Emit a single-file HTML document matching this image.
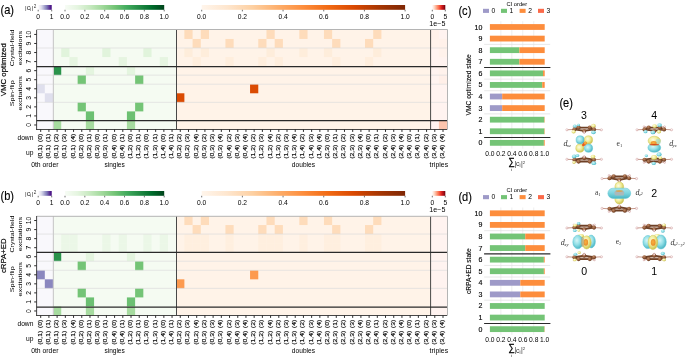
<!DOCTYPE html>
<html><head><meta charset="utf-8"><style>
html,body{margin:0;padding:0;background:#fff;}
body{width:685px;height:362px;overflow:hidden;}
svg{display:block;will-change:transform;}
</style></head><body>
<svg width="685" height="362" viewBox="0 0 685 362" font-family="'Liberation Sans', sans-serif" fill="#000">
<rect x="36.60" y="29.90" width="16.42" height="99.60" fill="#f9f8fc"/>
<rect x="53.02" y="29.90" width="123.15" height="99.60" fill="#f5fbf2"/>
<rect x="176.17" y="29.90" width="254.51" height="99.60" fill="#fff3e8"/>
<rect x="430.68" y="29.90" width="16.42" height="99.60" fill="#fff3f0"/>
<rect x="36.60" y="84.23" width="8.21" height="9.05" fill="#dfdfed"/>
<rect x="44.81" y="93.28" width="8.21" height="9.05" fill="#dfdfed"/>
<rect x="61.23" y="48.01" width="8.21" height="9.05" fill="#e1f4dc"/>
<rect x="102.28" y="48.01" width="8.21" height="9.05" fill="#e1f4dc"/>
<rect x="143.33" y="48.01" width="8.21" height="9.05" fill="#e1f4dc"/>
<rect x="69.44" y="57.06" width="8.21" height="9.05" fill="#e6f5e1"/>
<rect x="118.70" y="57.06" width="8.21" height="9.05" fill="#e6f5e1"/>
<rect x="159.75" y="57.06" width="8.21" height="9.05" fill="#e6f5e1"/>
<rect x="53.02" y="66.12" width="8.21" height="9.05" fill="#2a934b"/>
<rect x="85.86" y="66.12" width="8.21" height="9.05" fill="#e4f5df"/>
<rect x="126.91" y="66.12" width="8.21" height="9.05" fill="#e4f5df"/>
<rect x="77.65" y="75.17" width="8.21" height="9.05" fill="#74c476"/>
<rect x="77.65" y="102.34" width="8.21" height="9.05" fill="#74c476"/>
<rect x="135.12" y="75.17" width="8.21" height="9.05" fill="#74c476"/>
<rect x="135.12" y="102.34" width="8.21" height="9.05" fill="#74c476"/>
<rect x="85.86" y="111.39" width="8.21" height="9.05" fill="#6cc072"/>
<rect x="126.91" y="111.39" width="8.21" height="9.05" fill="#6cc072"/>
<rect x="53.02" y="120.45" width="8.21" height="9.05" fill="#a6db9f"/>
<rect x="85.86" y="120.45" width="8.21" height="9.05" fill="#a6db9f"/>
<rect x="126.91" y="120.45" width="8.21" height="9.05" fill="#a6db9f"/>
<rect x="184.38" y="29.90" width="8.21" height="9.05" fill="#fedcbb"/>
<rect x="184.38" y="48.01" width="8.21" height="9.05" fill="#feeddb"/>
<rect x="200.80" y="29.90" width="8.21" height="9.05" fill="#fedcbb"/>
<rect x="200.80" y="48.01" width="8.21" height="9.05" fill="#feeddb"/>
<rect x="266.48" y="29.90" width="8.21" height="9.05" fill="#fedcbb"/>
<rect x="266.48" y="48.01" width="8.21" height="9.05" fill="#feeddb"/>
<rect x="299.32" y="29.90" width="8.21" height="9.05" fill="#fedcbb"/>
<rect x="299.32" y="48.01" width="8.21" height="9.05" fill="#feeddb"/>
<rect x="323.95" y="29.90" width="8.21" height="9.05" fill="#fedcbb"/>
<rect x="323.95" y="48.01" width="8.21" height="9.05" fill="#feeddb"/>
<rect x="373.21" y="29.90" width="8.21" height="9.05" fill="#fedcbb"/>
<rect x="373.21" y="48.01" width="8.21" height="9.05" fill="#feeddb"/>
<rect x="192.59" y="38.95" width="8.21" height="9.05" fill="#fedcbb"/>
<rect x="192.59" y="57.06" width="8.21" height="9.05" fill="#ffeedd"/>
<rect x="225.43" y="38.95" width="8.21" height="9.05" fill="#fedcbb"/>
<rect x="225.43" y="57.06" width="8.21" height="9.05" fill="#ffeedd"/>
<rect x="258.27" y="38.95" width="8.21" height="9.05" fill="#fedcbb"/>
<rect x="258.27" y="57.06" width="8.21" height="9.05" fill="#ffeedd"/>
<rect x="274.69" y="38.95" width="8.21" height="9.05" fill="#fedcbb"/>
<rect x="274.69" y="57.06" width="8.21" height="9.05" fill="#ffeedd"/>
<rect x="332.16" y="38.95" width="8.21" height="9.05" fill="#fedcbb"/>
<rect x="332.16" y="57.06" width="8.21" height="9.05" fill="#ffeedd"/>
<rect x="365.00" y="38.95" width="8.21" height="9.05" fill="#fedcbb"/>
<rect x="365.00" y="57.06" width="8.21" height="9.05" fill="#ffeedd"/>
<rect x="250.06" y="84.23" width="8.21" height="9.05" fill="#db4b02"/>
<rect x="176.17" y="93.28" width="8.21" height="9.05" fill="#db4b02"/>
<rect x="438.89" y="120.45" width="8.21" height="9.05" fill="#fcc4ad"/>
<rect x="430.68" y="29.90" width="8.21" height="9.05" fill="#fff1ea"/>
<rect x="430.68" y="38.95" width="8.21" height="9.05" fill="#fff2eb"/>
<rect x="438.89" y="38.95" width="8.21" height="9.05" fill="#fff1ea"/>
<rect x="438.89" y="48.01" width="8.21" height="9.05" fill="#fff2eb"/>
<rect x="438.89" y="75.17" width="8.21" height="9.05" fill="#ffefe8"/>
<rect x="438.89" y="66.12" width="8.21" height="9.05" fill="#fff2ec"/>
<line x1="36.60" y1="48.01" x2="447.10" y2="48.01" stroke="#dcdcdc" stroke-width="0.7"/>
<line x1="36.60" y1="75.17" x2="447.10" y2="75.17" stroke="#dcdcdc" stroke-width="0.7"/>
<line x1="36.60" y1="84.23" x2="447.10" y2="84.23" stroke="#dcdcdc" stroke-width="0.7"/>
<line x1="36.60" y1="102.34" x2="447.10" y2="102.34" stroke="#dcdcdc" stroke-width="0.7"/>
<line x1="53.4" y1="29.90" x2="53.4" y2="129.50" stroke="#cdcdcd" stroke-width="1.2"/>
<line x1="176.50" y1="29.90" x2="176.50" y2="129.50" stroke="#484848" stroke-width="1"/>
<line x1="430.60" y1="29.90" x2="430.60" y2="129.50" stroke="#484848" stroke-width="1"/>
<line x1="36.60" y1="66.50" x2="447.10" y2="66.50" stroke="#2a2a2a" stroke-width="1.25"/>
<line x1="36.60" y1="120.70" x2="447.10" y2="120.70" stroke="#2a2a2a" stroke-width="1.25"/>
<path d="M36.60 29.50H447.5V129.50" fill="none" stroke="#b4b4b4" stroke-width="1"/>
<line x1="36.60" y1="29.90" x2="36.60" y2="129.95" stroke="#333" stroke-width="0.9"/>
<line x1="36.15" y1="129.50" x2="447.10" y2="129.50" stroke="#333" stroke-width="0.9"/>
<path d="M40.70 129.50v2.4 M48.92 129.50v2.4 M57.12 129.50v2.4 M65.34 129.50v2.4 M73.55 129.50v2.4 M81.75 129.50v2.4 M89.97 129.50v2.4 M98.18 129.50v2.4 M106.39 129.50v2.4 M114.59 129.50v2.4 M122.81 129.50v2.4 M131.02 129.50v2.4 M139.23 129.50v2.4 M147.44 129.50v2.4 M155.65 129.50v2.4 M163.86 129.50v2.4 M172.06 129.50v2.4 M180.28 129.50v2.4 M188.49 129.50v2.4 M196.70 129.50v2.4 M204.91 129.50v2.4 M213.12 129.50v2.4 M221.33 129.50v2.4 M229.54 129.50v2.4 M237.75 129.50v2.4 M245.96 129.50v2.4 M254.17 129.50v2.4 M262.38 129.50v2.4 M270.59 129.50v2.4 M278.80 129.50v2.4 M287.01 129.50v2.4 M295.22 129.50v2.4 M303.43 129.50v2.4 M311.64 129.50v2.4 M319.85 129.50v2.4 M328.06 129.50v2.4 M336.27 129.50v2.4 M344.48 129.50v2.4 M352.69 129.50v2.4 M360.90 129.50v2.4 M369.11 129.50v2.4 M377.32 129.50v2.4 M385.53 129.50v2.4 M393.74 129.50v2.4 M401.95 129.50v2.4 M410.16 129.50v2.4 M418.37 129.50v2.4 M426.58 129.50v2.4 M434.79 129.50v2.4 M443.00 129.50v2.4 M36.60 124.97h-2.4 M36.60 115.92h-2.4 M36.60 106.86h-2.4 M36.60 97.81h-2.4 M36.60 88.75h-2.4 M36.60 79.70h-2.4 M36.60 70.65h-2.4 M36.60 61.59h-2.4 M36.60 52.54h-2.4 M36.60 43.48h-2.4 M36.60 34.43h-2.4" stroke="#222" stroke-width="0.95" fill="none"/>
<text transform="translate(41.70 133.80) rotate(-90) scale(1.22 1)" font-size="5.6" text-anchor="end" stroke="#000" stroke-width="0.16">(0)</text>
<text transform="translate(41.70 144.70) rotate(-90) scale(1.22 1)" font-size="5.6" text-anchor="end" stroke="#000" stroke-width="0.16">(0,1)</text>
<text transform="translate(49.92 133.80) rotate(-90) scale(1.22 1)" font-size="5.6" text-anchor="end" stroke="#000" stroke-width="0.16">(1)</text>
<text transform="translate(49.92 144.70) rotate(-90) scale(1.22 1)" font-size="5.6" text-anchor="end" stroke="#000" stroke-width="0.16">(0,1)</text>
<text transform="translate(58.12 133.80) rotate(-90) scale(1.22 1)" font-size="5.6" text-anchor="end" stroke="#000" stroke-width="0.16">(2)</text>
<text transform="translate(58.12 144.70) rotate(-90) scale(1.22 1)" font-size="5.6" text-anchor="end" stroke="#000" stroke-width="0.16">(0,1)</text>
<text transform="translate(66.34 133.80) rotate(-90) scale(1.22 1)" font-size="5.6" text-anchor="end" stroke="#000" stroke-width="0.16">(3)</text>
<text transform="translate(66.34 144.70) rotate(-90) scale(1.22 1)" font-size="5.6" text-anchor="end" stroke="#000" stroke-width="0.16">(0,1)</text>
<text transform="translate(74.55 133.80) rotate(-90) scale(1.22 1)" font-size="5.6" text-anchor="end" stroke="#000" stroke-width="0.16">(4)</text>
<text transform="translate(74.55 144.70) rotate(-90) scale(1.22 1)" font-size="5.6" text-anchor="end" stroke="#000" stroke-width="0.16">(0,1)</text>
<text transform="translate(82.75 133.80) rotate(-90) scale(1.22 1)" font-size="5.6" text-anchor="end" stroke="#000" stroke-width="0.16">(0)</text>
<text transform="translate(82.75 144.70) rotate(-90) scale(1.22 1)" font-size="5.6" text-anchor="end" stroke="#000" stroke-width="0.16">(0,2)</text>
<text transform="translate(90.97 133.80) rotate(-90) scale(1.22 1)" font-size="5.6" text-anchor="end" stroke="#000" stroke-width="0.16">(1)</text>
<text transform="translate(90.97 144.70) rotate(-90) scale(1.22 1)" font-size="5.6" text-anchor="end" stroke="#000" stroke-width="0.16">(0,2)</text>
<text transform="translate(99.18 133.80) rotate(-90) scale(1.22 1)" font-size="5.6" text-anchor="end" stroke="#000" stroke-width="0.16">(0)</text>
<text transform="translate(99.18 144.70) rotate(-90) scale(1.22 1)" font-size="5.6" text-anchor="end" stroke="#000" stroke-width="0.16">(0,3)</text>
<text transform="translate(107.39 133.80) rotate(-90) scale(1.22 1)" font-size="5.6" text-anchor="end" stroke="#000" stroke-width="0.16">(1)</text>
<text transform="translate(107.39 144.70) rotate(-90) scale(1.22 1)" font-size="5.6" text-anchor="end" stroke="#000" stroke-width="0.16">(0,3)</text>
<text transform="translate(115.59 133.80) rotate(-90) scale(1.22 1)" font-size="5.6" text-anchor="end" stroke="#000" stroke-width="0.16">(0)</text>
<text transform="translate(115.59 144.70) rotate(-90) scale(1.22 1)" font-size="5.6" text-anchor="end" stroke="#000" stroke-width="0.16">(0,4)</text>
<text transform="translate(123.81 133.80) rotate(-90) scale(1.22 1)" font-size="5.6" text-anchor="end" stroke="#000" stroke-width="0.16">(1)</text>
<text transform="translate(123.81 144.70) rotate(-90) scale(1.22 1)" font-size="5.6" text-anchor="end" stroke="#000" stroke-width="0.16">(0,4)</text>
<text transform="translate(132.02 133.80) rotate(-90) scale(1.22 1)" font-size="5.6" text-anchor="end" stroke="#000" stroke-width="0.16">(0)</text>
<text transform="translate(132.02 144.70) rotate(-90) scale(1.22 1)" font-size="5.6" text-anchor="end" stroke="#000" stroke-width="0.16">(1,2)</text>
<text transform="translate(140.23 133.80) rotate(-90) scale(1.22 1)" font-size="5.6" text-anchor="end" stroke="#000" stroke-width="0.16">(1)</text>
<text transform="translate(140.23 144.70) rotate(-90) scale(1.22 1)" font-size="5.6" text-anchor="end" stroke="#000" stroke-width="0.16">(1,2)</text>
<text transform="translate(148.44 133.80) rotate(-90) scale(1.22 1)" font-size="5.6" text-anchor="end" stroke="#000" stroke-width="0.16">(0)</text>
<text transform="translate(148.44 144.70) rotate(-90) scale(1.22 1)" font-size="5.6" text-anchor="end" stroke="#000" stroke-width="0.16">(1,3)</text>
<text transform="translate(156.65 133.80) rotate(-90) scale(1.22 1)" font-size="5.6" text-anchor="end" stroke="#000" stroke-width="0.16">(1)</text>
<text transform="translate(156.65 144.70) rotate(-90) scale(1.22 1)" font-size="5.6" text-anchor="end" stroke="#000" stroke-width="0.16">(1,3)</text>
<text transform="translate(164.86 133.80) rotate(-90) scale(1.22 1)" font-size="5.6" text-anchor="end" stroke="#000" stroke-width="0.16">(0)</text>
<text transform="translate(164.86 144.70) rotate(-90) scale(1.22 1)" font-size="5.6" text-anchor="end" stroke="#000" stroke-width="0.16">(1,4)</text>
<text transform="translate(173.06 133.80) rotate(-90) scale(1.22 1)" font-size="5.6" text-anchor="end" stroke="#000" stroke-width="0.16">(1)</text>
<text transform="translate(173.06 144.70) rotate(-90) scale(1.22 1)" font-size="5.6" text-anchor="end" stroke="#000" stroke-width="0.16">(1,4)</text>
<text transform="translate(181.28 133.80) rotate(-90) scale(1.22 1)" font-size="5.6" text-anchor="end" stroke="#000" stroke-width="0.16">(2)</text>
<text transform="translate(181.28 144.70) rotate(-90) scale(1.22 1)" font-size="5.6" text-anchor="end" stroke="#000" stroke-width="0.16">(0,2)</text>
<text transform="translate(189.49 133.80) rotate(-90) scale(1.22 1)" font-size="5.6" text-anchor="end" stroke="#000" stroke-width="0.16">(3)</text>
<text transform="translate(189.49 144.70) rotate(-90) scale(1.22 1)" font-size="5.6" text-anchor="end" stroke="#000" stroke-width="0.16">(0,2)</text>
<text transform="translate(197.70 133.80) rotate(-90) scale(1.22 1)" font-size="5.6" text-anchor="end" stroke="#000" stroke-width="0.16">(4)</text>
<text transform="translate(197.70 144.70) rotate(-90) scale(1.22 1)" font-size="5.6" text-anchor="end" stroke="#000" stroke-width="0.16">(0,2)</text>
<text transform="translate(205.91 133.80) rotate(-90) scale(1.22 1)" font-size="5.6" text-anchor="end" stroke="#000" stroke-width="0.16">(2)</text>
<text transform="translate(205.91 144.70) rotate(-90) scale(1.22 1)" font-size="5.6" text-anchor="end" stroke="#000" stroke-width="0.16">(0,3)</text>
<text transform="translate(214.12 133.80) rotate(-90) scale(1.22 1)" font-size="5.6" text-anchor="end" stroke="#000" stroke-width="0.16">(3)</text>
<text transform="translate(214.12 144.70) rotate(-90) scale(1.22 1)" font-size="5.6" text-anchor="end" stroke="#000" stroke-width="0.16">(0,3)</text>
<text transform="translate(222.33 133.80) rotate(-90) scale(1.22 1)" font-size="5.6" text-anchor="end" stroke="#000" stroke-width="0.16">(4)</text>
<text transform="translate(222.33 144.70) rotate(-90) scale(1.22 1)" font-size="5.6" text-anchor="end" stroke="#000" stroke-width="0.16">(0,3)</text>
<text transform="translate(230.54 133.80) rotate(-90) scale(1.22 1)" font-size="5.6" text-anchor="end" stroke="#000" stroke-width="0.16">(2)</text>
<text transform="translate(230.54 144.70) rotate(-90) scale(1.22 1)" font-size="5.6" text-anchor="end" stroke="#000" stroke-width="0.16">(0,4)</text>
<text transform="translate(238.75 133.80) rotate(-90) scale(1.22 1)" font-size="5.6" text-anchor="end" stroke="#000" stroke-width="0.16">(3)</text>
<text transform="translate(238.75 144.70) rotate(-90) scale(1.22 1)" font-size="5.6" text-anchor="end" stroke="#000" stroke-width="0.16">(0,4)</text>
<text transform="translate(246.96 133.80) rotate(-90) scale(1.22 1)" font-size="5.6" text-anchor="end" stroke="#000" stroke-width="0.16">(4)</text>
<text transform="translate(246.96 144.70) rotate(-90) scale(1.22 1)" font-size="5.6" text-anchor="end" stroke="#000" stroke-width="0.16">(0,4)</text>
<text transform="translate(255.17 133.80) rotate(-90) scale(1.22 1)" font-size="5.6" text-anchor="end" stroke="#000" stroke-width="0.16">(2)</text>
<text transform="translate(255.17 144.70) rotate(-90) scale(1.22 1)" font-size="5.6" text-anchor="end" stroke="#000" stroke-width="0.16">(1,2)</text>
<text transform="translate(263.38 133.80) rotate(-90) scale(1.22 1)" font-size="5.6" text-anchor="end" stroke="#000" stroke-width="0.16">(3)</text>
<text transform="translate(263.38 144.70) rotate(-90) scale(1.22 1)" font-size="5.6" text-anchor="end" stroke="#000" stroke-width="0.16">(1,2)</text>
<text transform="translate(271.59 133.80) rotate(-90) scale(1.22 1)" font-size="5.6" text-anchor="end" stroke="#000" stroke-width="0.16">(4)</text>
<text transform="translate(271.59 144.70) rotate(-90) scale(1.22 1)" font-size="5.6" text-anchor="end" stroke="#000" stroke-width="0.16">(1,2)</text>
<text transform="translate(279.80 133.80) rotate(-90) scale(1.22 1)" font-size="5.6" text-anchor="end" stroke="#000" stroke-width="0.16">(2)</text>
<text transform="translate(279.80 144.70) rotate(-90) scale(1.22 1)" font-size="5.6" text-anchor="end" stroke="#000" stroke-width="0.16">(1,3)</text>
<text transform="translate(288.01 133.80) rotate(-90) scale(1.22 1)" font-size="5.6" text-anchor="end" stroke="#000" stroke-width="0.16">(3)</text>
<text transform="translate(288.01 144.70) rotate(-90) scale(1.22 1)" font-size="5.6" text-anchor="end" stroke="#000" stroke-width="0.16">(1,3)</text>
<text transform="translate(296.22 133.80) rotate(-90) scale(1.22 1)" font-size="5.6" text-anchor="end" stroke="#000" stroke-width="0.16">(4)</text>
<text transform="translate(296.22 144.70) rotate(-90) scale(1.22 1)" font-size="5.6" text-anchor="end" stroke="#000" stroke-width="0.16">(1,3)</text>
<text transform="translate(304.43 133.80) rotate(-90) scale(1.22 1)" font-size="5.6" text-anchor="end" stroke="#000" stroke-width="0.16">(2)</text>
<text transform="translate(304.43 144.70) rotate(-90) scale(1.22 1)" font-size="5.6" text-anchor="end" stroke="#000" stroke-width="0.16">(1,4)</text>
<text transform="translate(312.64 133.80) rotate(-90) scale(1.22 1)" font-size="5.6" text-anchor="end" stroke="#000" stroke-width="0.16">(3)</text>
<text transform="translate(312.64 144.70) rotate(-90) scale(1.22 1)" font-size="5.6" text-anchor="end" stroke="#000" stroke-width="0.16">(1,4)</text>
<text transform="translate(320.85 133.80) rotate(-90) scale(1.22 1)" font-size="5.6" text-anchor="end" stroke="#000" stroke-width="0.16">(4)</text>
<text transform="translate(320.85 144.70) rotate(-90) scale(1.22 1)" font-size="5.6" text-anchor="end" stroke="#000" stroke-width="0.16">(1,4)</text>
<text transform="translate(329.06 133.80) rotate(-90) scale(1.22 1)" font-size="5.6" text-anchor="end" stroke="#000" stroke-width="0.16">(0)</text>
<text transform="translate(329.06 144.70) rotate(-90) scale(1.22 1)" font-size="5.6" text-anchor="end" stroke="#000" stroke-width="0.16">(2,3)</text>
<text transform="translate(337.27 133.80) rotate(-90) scale(1.22 1)" font-size="5.6" text-anchor="end" stroke="#000" stroke-width="0.16">(1)</text>
<text transform="translate(337.27 144.70) rotate(-90) scale(1.22 1)" font-size="5.6" text-anchor="end" stroke="#000" stroke-width="0.16">(2,3)</text>
<text transform="translate(345.48 133.80) rotate(-90) scale(1.22 1)" font-size="5.6" text-anchor="end" stroke="#000" stroke-width="0.16">(2)</text>
<text transform="translate(345.48 144.70) rotate(-90) scale(1.22 1)" font-size="5.6" text-anchor="end" stroke="#000" stroke-width="0.16">(2,3)</text>
<text transform="translate(353.69 133.80) rotate(-90) scale(1.22 1)" font-size="5.6" text-anchor="end" stroke="#000" stroke-width="0.16">(3)</text>
<text transform="translate(353.69 144.70) rotate(-90) scale(1.22 1)" font-size="5.6" text-anchor="end" stroke="#000" stroke-width="0.16">(2,3)</text>
<text transform="translate(361.90 133.80) rotate(-90) scale(1.22 1)" font-size="5.6" text-anchor="end" stroke="#000" stroke-width="0.16">(4)</text>
<text transform="translate(361.90 144.70) rotate(-90) scale(1.22 1)" font-size="5.6" text-anchor="end" stroke="#000" stroke-width="0.16">(2,3)</text>
<text transform="translate(370.11 133.80) rotate(-90) scale(1.22 1)" font-size="5.6" text-anchor="end" stroke="#000" stroke-width="0.16">(0)</text>
<text transform="translate(370.11 144.70) rotate(-90) scale(1.22 1)" font-size="5.6" text-anchor="end" stroke="#000" stroke-width="0.16">(2,4)</text>
<text transform="translate(378.32 133.80) rotate(-90) scale(1.22 1)" font-size="5.6" text-anchor="end" stroke="#000" stroke-width="0.16">(1)</text>
<text transform="translate(378.32 144.70) rotate(-90) scale(1.22 1)" font-size="5.6" text-anchor="end" stroke="#000" stroke-width="0.16">(2,4)</text>
<text transform="translate(386.53 133.80) rotate(-90) scale(1.22 1)" font-size="5.6" text-anchor="end" stroke="#000" stroke-width="0.16">(2)</text>
<text transform="translate(386.53 144.70) rotate(-90) scale(1.22 1)" font-size="5.6" text-anchor="end" stroke="#000" stroke-width="0.16">(2,4)</text>
<text transform="translate(394.74 133.80) rotate(-90) scale(1.22 1)" font-size="5.6" text-anchor="end" stroke="#000" stroke-width="0.16">(3)</text>
<text transform="translate(394.74 144.70) rotate(-90) scale(1.22 1)" font-size="5.6" text-anchor="end" stroke="#000" stroke-width="0.16">(2,4)</text>
<text transform="translate(402.95 133.80) rotate(-90) scale(1.22 1)" font-size="5.6" text-anchor="end" stroke="#000" stroke-width="0.16">(4)</text>
<text transform="translate(402.95 144.70) rotate(-90) scale(1.22 1)" font-size="5.6" text-anchor="end" stroke="#000" stroke-width="0.16">(2,4)</text>
<text transform="translate(411.16 133.80) rotate(-90) scale(1.22 1)" font-size="5.6" text-anchor="end" stroke="#000" stroke-width="0.16">(0)</text>
<text transform="translate(411.16 144.70) rotate(-90) scale(1.22 1)" font-size="5.6" text-anchor="end" stroke="#000" stroke-width="0.16">(3,4)</text>
<text transform="translate(419.37 133.80) rotate(-90) scale(1.22 1)" font-size="5.6" text-anchor="end" stroke="#000" stroke-width="0.16">(1)</text>
<text transform="translate(419.37 144.70) rotate(-90) scale(1.22 1)" font-size="5.6" text-anchor="end" stroke="#000" stroke-width="0.16">(3,4)</text>
<text transform="translate(427.58 133.80) rotate(-90) scale(1.22 1)" font-size="5.6" text-anchor="end" stroke="#000" stroke-width="0.16">(2)</text>
<text transform="translate(427.58 144.70) rotate(-90) scale(1.22 1)" font-size="5.6" text-anchor="end" stroke="#000" stroke-width="0.16">(3,4)</text>
<text transform="translate(435.79 133.80) rotate(-90) scale(1.22 1)" font-size="5.6" text-anchor="end" stroke="#000" stroke-width="0.16">(3)</text>
<text transform="translate(435.79 144.70) rotate(-90) scale(1.22 1)" font-size="5.6" text-anchor="end" stroke="#000" stroke-width="0.16">(3,4)</text>
<text transform="translate(444.00 133.80) rotate(-90) scale(1.22 1)" font-size="5.6" text-anchor="end" stroke="#000" stroke-width="0.16">(4)</text>
<text transform="translate(444.00 144.70) rotate(-90) scale(1.22 1)" font-size="5.6" text-anchor="end" stroke="#000" stroke-width="0.16">(3,4)</text>
<text transform="translate(33.40 139.90) scale(1.03 1)" font-size="6.5" text-anchor="end">down</text>
<text transform="translate(33.40 154.90) scale(1.03 1)" font-size="6.5" text-anchor="end">up</text>
<text transform="translate(44.81 166.70) scale(1.05 1)" font-size="6.5" text-anchor="middle">0th order</text>
<text transform="translate(114.59 166.70) scale(1.01 1)" font-size="6.5" text-anchor="middle">singles</text>
<text transform="translate(303.43 166.70) scale(1.02 1)" font-size="6.5" text-anchor="middle">doubles</text>
<text transform="translate(438.89 166.70) scale(1.07 1)" font-size="6.5" text-anchor="middle">triples</text>
<text transform="translate(31.30 124.97) rotate(-90) scale(1.08 1)" font-size="6.3" text-anchor="middle">0</text>
<text transform="translate(31.30 115.92) rotate(-90) scale(1.08 1)" font-size="6.3" text-anchor="middle">1</text>
<text transform="translate(31.30 106.86) rotate(-90) scale(1.08 1)" font-size="6.3" text-anchor="middle">2</text>
<text transform="translate(31.30 97.81) rotate(-90) scale(1.08 1)" font-size="6.3" text-anchor="middle">3</text>
<text transform="translate(31.30 88.75) rotate(-90) scale(1.08 1)" font-size="6.3" text-anchor="middle">4</text>
<text transform="translate(31.30 79.70) rotate(-90) scale(1.08 1)" font-size="6.3" text-anchor="middle">5</text>
<text transform="translate(31.30 70.65) rotate(-90) scale(1.08 1)" font-size="6.3" text-anchor="middle">6</text>
<text transform="translate(31.30 61.59) rotate(-90) scale(1.08 1)" font-size="6.3" text-anchor="middle">7</text>
<text transform="translate(31.30 52.54) rotate(-90) scale(1.08 1)" font-size="6.3" text-anchor="middle">8</text>
<text transform="translate(31.30 43.48) rotate(-90) scale(1.08 1)" font-size="6.3" text-anchor="middle">9</text>
<text transform="translate(31.30 34.43) rotate(-90) scale(1.08 1)" font-size="6.3" text-anchor="middle">10</text>
<text transform="translate(13.70 48.01) rotate(-90) scale(1.14 1)" font-size="6.1" text-anchor="middle">Crystal-field</text>
<text transform="translate(21.60 48.01) rotate(-90) scale(1.2 1)" font-size="6.1" text-anchor="middle">excitations</text>
<text transform="translate(13.70 93.28) rotate(-90) scale(1.18 1)" font-size="6.1" text-anchor="middle">Spin-flip</text>
<text transform="translate(21.60 93.28) rotate(-90) scale(1.2 1)" font-size="6.1" text-anchor="middle">excitations</text>
<text transform="translate(5.50 69.70) rotate(-90)" font-size="7.8" text-anchor="middle" stroke="#000" stroke-width="0.2">VMC optimized</text>
<text transform="translate(0.50 13.80) scale(0.9 1)" font-size="12.3" text-anchor="start" stroke="#000" stroke-width="0.15">(a)</text>
<defs><linearGradient id="gPurples0"><stop offset="0" stop-color="#fcfbfd"/><stop offset="0.125" stop-color="#efedf5"/><stop offset="0.25" stop-color="#dadaeb"/><stop offset="0.375" stop-color="#bcbddc"/><stop offset="0.5" stop-color="#9e9ac8"/><stop offset="0.625" stop-color="#807dba"/><stop offset="0.75" stop-color="#6a51a3"/><stop offset="0.875" stop-color="#54278f"/><stop offset="1" stop-color="#3f007d"/></linearGradient></defs>
<rect x="38.20" y="5.00" width="13.50" height="4.80" fill="url(#gPurples0)"/>
<text transform="translate(38.20 18.70) scale(1.03 1)" font-size="6.5" text-anchor="middle">0</text>
<text transform="translate(51.70 18.70) scale(1.03 1)" font-size="6.5" text-anchor="middle">1</text>
<path d="M38.20 9.80v1.6 M51.70 9.80v1.6" stroke="#333" stroke-width="0.7" fill="none"/>
<defs><linearGradient id="gGreens0"><stop offset="0" stop-color="#f7fcf5"/><stop offset="0.125" stop-color="#e5f5e0"/><stop offset="0.25" stop-color="#c7e9c0"/><stop offset="0.375" stop-color="#a1d99b"/><stop offset="0.5" stop-color="#74c476"/><stop offset="0.625" stop-color="#41ab5d"/><stop offset="0.75" stop-color="#238b45"/><stop offset="0.875" stop-color="#006d2c"/><stop offset="1" stop-color="#00441b"/></linearGradient></defs>
<rect x="65.00" y="5.00" width="99.20" height="4.80" fill="url(#gGreens0)"/>
<text transform="translate(65.00 18.70) scale(1.03 1)" font-size="6.5" text-anchor="middle">0.0</text>
<text transform="translate(84.84 18.70) scale(1.03 1)" font-size="6.5" text-anchor="middle">0.2</text>
<text transform="translate(104.68 18.70) scale(1.03 1)" font-size="6.5" text-anchor="middle">0.4</text>
<text transform="translate(124.52 18.70) scale(1.03 1)" font-size="6.5" text-anchor="middle">0.6</text>
<text transform="translate(144.36 18.70) scale(1.03 1)" font-size="6.5" text-anchor="middle">0.8</text>
<text transform="translate(164.20 18.70) scale(1.03 1)" font-size="6.5" text-anchor="middle">1.0</text>
<path d="M65.00 9.80v1.6 M84.84 9.80v1.6 M104.68 9.80v1.6 M124.52 9.80v1.6 M144.36 9.80v1.6 M164.20 9.80v1.6" stroke="#333" stroke-width="0.7" fill="none"/>
<defs><linearGradient id="gOranges0"><stop offset="0" stop-color="#fff5eb"/><stop offset="0.125" stop-color="#fee6ce"/><stop offset="0.25" stop-color="#fdd0a2"/><stop offset="0.375" stop-color="#fdae6b"/><stop offset="0.5" stop-color="#fd8d3c"/><stop offset="0.625" stop-color="#f16913"/><stop offset="0.75" stop-color="#d94801"/><stop offset="0.875" stop-color="#a63603"/><stop offset="1" stop-color="#7f2704"/></linearGradient></defs>
<rect x="201.70" y="5.00" width="203.40" height="4.80" fill="url(#gOranges0)"/>
<text transform="translate(201.70 18.70) scale(1.03 1)" font-size="6.5" text-anchor="middle">0.0</text>
<text transform="translate(242.38 18.70) scale(1.03 1)" font-size="6.5" text-anchor="middle">0.2</text>
<text transform="translate(283.06 18.70) scale(1.03 1)" font-size="6.5" text-anchor="middle">0.4</text>
<text transform="translate(323.74 18.70) scale(1.03 1)" font-size="6.5" text-anchor="middle">0.6</text>
<text transform="translate(364.42 18.70) scale(1.03 1)" font-size="6.5" text-anchor="middle">0.8</text>
<text transform="translate(405.10 18.70) scale(1.03 1)" font-size="6.5" text-anchor="middle">1.0</text>
<path d="M201.70 9.80v1.6 M242.38 9.80v1.6 M283.06 9.80v1.6 M323.74 9.80v1.6 M364.42 9.80v1.6 M405.10 9.80v1.6" stroke="#333" stroke-width="0.7" fill="none"/>
<defs><linearGradient id="gReds0"><stop offset="0" stop-color="#fff5f0"/><stop offset="0.125" stop-color="#fee0d2"/><stop offset="0.25" stop-color="#fcbba1"/><stop offset="0.375" stop-color="#fc9272"/><stop offset="0.5" stop-color="#fb6a4a"/><stop offset="0.625" stop-color="#ef3b2c"/><stop offset="0.75" stop-color="#cb181d"/><stop offset="0.875" stop-color="#a50f15"/><stop offset="1" stop-color="#67000d"/></linearGradient></defs>
<rect x="432.30" y="5.00" width="13.00" height="4.80" fill="url(#gReds0)"/>
<text transform="translate(432.30 18.70) scale(1.03 1)" font-size="6.5" text-anchor="middle">0</text>
<text transform="translate(445.30 18.70) scale(1.03 1)" font-size="6.5" text-anchor="middle">5</text>
<path d="M432.30 9.80v1.6 M445.30 9.80v1.6" stroke="#333" stroke-width="0.7" fill="none"/>
<text transform="translate(437.30 26.40) scale(1.1 1)" font-size="6.5" text-anchor="middle">1e−5</text>
<text x="24.90" y="9.80" font-size="6.20" fill="#333">|</text><text x="26.65" y="10.40" font-size="7.40" fill="#333">c</text><text x="30.30" y="11.30" font-size="4.90" fill="#333">i</text><text x="31.80" y="9.80" font-size="6.20" fill="#333">|</text><text x="33.80" y="7.80" font-size="4.60" fill="#333">2</text>
<rect x="36.60" y="216.00" width="16.42" height="99.50" fill="#f9f8fc"/>
<rect x="53.02" y="216.00" width="123.15" height="99.50" fill="#f5fbf2"/>
<rect x="176.17" y="216.00" width="254.51" height="99.50" fill="#fff3e8"/>
<rect x="430.68" y="216.00" width="16.42" height="99.50" fill="#fff3f0"/>
<rect x="36.60" y="270.27" width="8.21" height="9.05" fill="#8b87bf"/>
<rect x="44.81" y="279.32" width="8.21" height="9.05" fill="#8b87bf"/>
<rect x="61.23" y="234.09" width="8.21" height="9.05" fill="#ebf7e7"/>
<rect x="61.23" y="243.14" width="8.21" height="9.05" fill="#ebf7e7"/>
<rect x="69.44" y="234.09" width="8.21" height="9.05" fill="#ebf7e7"/>
<rect x="69.44" y="243.14" width="8.21" height="9.05" fill="#ebf7e7"/>
<rect x="102.28" y="234.09" width="8.21" height="9.05" fill="#ebf7e7"/>
<rect x="102.28" y="243.14" width="8.21" height="9.05" fill="#ebf7e7"/>
<rect x="118.70" y="234.09" width="8.21" height="9.05" fill="#ebf7e7"/>
<rect x="118.70" y="243.14" width="8.21" height="9.05" fill="#ebf7e7"/>
<rect x="143.33" y="234.09" width="8.21" height="9.05" fill="#ebf7e7"/>
<rect x="143.33" y="243.14" width="8.21" height="9.05" fill="#ebf7e7"/>
<rect x="159.75" y="234.09" width="8.21" height="9.05" fill="#ebf7e7"/>
<rect x="159.75" y="243.14" width="8.21" height="9.05" fill="#ebf7e7"/>
<rect x="53.02" y="252.18" width="8.21" height="9.05" fill="#2a934b"/>
<rect x="85.86" y="252.18" width="8.21" height="9.05" fill="#e4f5df"/>
<rect x="126.91" y="252.18" width="8.21" height="9.05" fill="#e4f5df"/>
<rect x="77.65" y="261.23" width="8.21" height="9.05" fill="#74c476"/>
<rect x="77.65" y="288.36" width="8.21" height="9.05" fill="#74c476"/>
<rect x="135.12" y="261.23" width="8.21" height="9.05" fill="#74c476"/>
<rect x="135.12" y="288.36" width="8.21" height="9.05" fill="#74c476"/>
<rect x="85.86" y="297.41" width="8.21" height="9.05" fill="#6cc072"/>
<rect x="126.91" y="297.41" width="8.21" height="9.05" fill="#6cc072"/>
<rect x="53.02" y="306.45" width="8.21" height="9.05" fill="#a6db9f"/>
<rect x="85.86" y="306.45" width="8.21" height="9.05" fill="#a6db9f"/>
<rect x="126.91" y="306.45" width="8.21" height="9.05" fill="#a6db9f"/>
<rect x="184.38" y="216.00" width="8.21" height="9.05" fill="#fedcbb"/>
<rect x="200.80" y="216.00" width="8.21" height="9.05" fill="#fedcbb"/>
<rect x="266.48" y="216.00" width="8.21" height="9.05" fill="#fedcbb"/>
<rect x="299.32" y="216.00" width="8.21" height="9.05" fill="#fedcbb"/>
<rect x="323.95" y="216.00" width="8.21" height="9.05" fill="#fedcbb"/>
<rect x="373.21" y="216.00" width="8.21" height="9.05" fill="#fedcbb"/>
<rect x="192.59" y="225.05" width="8.21" height="9.05" fill="#fedcbb"/>
<rect x="225.43" y="225.05" width="8.21" height="9.05" fill="#fedcbb"/>
<rect x="258.27" y="225.05" width="8.21" height="9.05" fill="#fedcbb"/>
<rect x="274.69" y="225.05" width="8.21" height="9.05" fill="#fedcbb"/>
<rect x="332.16" y="225.05" width="8.21" height="9.05" fill="#fedcbb"/>
<rect x="365.00" y="225.05" width="8.21" height="9.05" fill="#fedcbb"/>
<rect x="184.38" y="234.09" width="8.21" height="9.05" fill="#ffefdf"/>
<rect x="184.38" y="243.14" width="8.21" height="9.05" fill="#ffefdf"/>
<rect x="192.59" y="234.09" width="8.21" height="9.05" fill="#ffefdf"/>
<rect x="192.59" y="243.14" width="8.21" height="9.05" fill="#ffefdf"/>
<rect x="200.80" y="234.09" width="8.21" height="9.05" fill="#ffefdf"/>
<rect x="200.80" y="243.14" width="8.21" height="9.05" fill="#ffefdf"/>
<rect x="225.43" y="234.09" width="8.21" height="9.05" fill="#ffefdf"/>
<rect x="225.43" y="243.14" width="8.21" height="9.05" fill="#ffefdf"/>
<rect x="258.27" y="234.09" width="8.21" height="9.05" fill="#ffefdf"/>
<rect x="258.27" y="243.14" width="8.21" height="9.05" fill="#ffefdf"/>
<rect x="266.48" y="234.09" width="8.21" height="9.05" fill="#ffefdf"/>
<rect x="266.48" y="243.14" width="8.21" height="9.05" fill="#ffefdf"/>
<rect x="274.69" y="234.09" width="8.21" height="9.05" fill="#ffefdf"/>
<rect x="274.69" y="243.14" width="8.21" height="9.05" fill="#ffefdf"/>
<rect x="299.32" y="234.09" width="8.21" height="9.05" fill="#ffefdf"/>
<rect x="299.32" y="243.14" width="8.21" height="9.05" fill="#ffefdf"/>
<rect x="323.95" y="234.09" width="8.21" height="9.05" fill="#ffefdf"/>
<rect x="323.95" y="243.14" width="8.21" height="9.05" fill="#ffefdf"/>
<rect x="332.16" y="234.09" width="8.21" height="9.05" fill="#ffefdf"/>
<rect x="332.16" y="243.14" width="8.21" height="9.05" fill="#ffefdf"/>
<rect x="365.00" y="234.09" width="8.21" height="9.05" fill="#ffefdf"/>
<rect x="365.00" y="243.14" width="8.21" height="9.05" fill="#ffefdf"/>
<rect x="373.21" y="234.09" width="8.21" height="9.05" fill="#ffefdf"/>
<rect x="373.21" y="243.14" width="8.21" height="9.05" fill="#ffefdf"/>
<rect x="250.06" y="270.27" width="8.21" height="9.05" fill="#fd9a4f"/>
<rect x="176.17" y="279.32" width="8.21" height="9.05" fill="#fd9a4f"/>
<line x1="36.60" y1="234.09" x2="447.10" y2="234.09" stroke="#dcdcdc" stroke-width="0.7"/>
<line x1="36.60" y1="261.23" x2="447.10" y2="261.23" stroke="#dcdcdc" stroke-width="0.7"/>
<line x1="36.60" y1="270.27" x2="447.10" y2="270.27" stroke="#dcdcdc" stroke-width="0.7"/>
<line x1="36.60" y1="288.36" x2="447.10" y2="288.36" stroke="#dcdcdc" stroke-width="0.7"/>
<line x1="53.4" y1="216.00" x2="53.4" y2="315.50" stroke="#cdcdcd" stroke-width="1.2"/>
<line x1="176.50" y1="216.00" x2="176.50" y2="315.50" stroke="#484848" stroke-width="1"/>
<line x1="430.60" y1="216.00" x2="430.60" y2="315.50" stroke="#484848" stroke-width="1"/>
<line x1="36.60" y1="252.40" x2="447.10" y2="252.40" stroke="#2a2a2a" stroke-width="1.25"/>
<line x1="36.60" y1="307.10" x2="447.10" y2="307.10" stroke="#2a2a2a" stroke-width="1.25"/>
<path d="M36.60 216.30H447.5V315.50" fill="none" stroke="#b4b4b4" stroke-width="1"/>
<line x1="36.60" y1="216.00" x2="36.60" y2="315.95" stroke="#333" stroke-width="0.9"/>
<line x1="36.15" y1="315.50" x2="447.10" y2="315.50" stroke="#333" stroke-width="0.9"/>
<path d="M40.70 315.50v2.4 M48.92 315.50v2.4 M57.12 315.50v2.4 M65.34 315.50v2.4 M73.55 315.50v2.4 M81.75 315.50v2.4 M89.97 315.50v2.4 M98.18 315.50v2.4 M106.39 315.50v2.4 M114.59 315.50v2.4 M122.81 315.50v2.4 M131.02 315.50v2.4 M139.23 315.50v2.4 M147.44 315.50v2.4 M155.65 315.50v2.4 M163.86 315.50v2.4 M172.06 315.50v2.4 M180.28 315.50v2.4 M188.49 315.50v2.4 M196.70 315.50v2.4 M204.91 315.50v2.4 M213.12 315.50v2.4 M221.33 315.50v2.4 M229.54 315.50v2.4 M237.75 315.50v2.4 M245.96 315.50v2.4 M254.17 315.50v2.4 M262.38 315.50v2.4 M270.59 315.50v2.4 M278.80 315.50v2.4 M287.01 315.50v2.4 M295.22 315.50v2.4 M303.43 315.50v2.4 M311.64 315.50v2.4 M319.85 315.50v2.4 M328.06 315.50v2.4 M336.27 315.50v2.4 M344.48 315.50v2.4 M352.69 315.50v2.4 M360.90 315.50v2.4 M369.11 315.50v2.4 M377.32 315.50v2.4 M385.53 315.50v2.4 M393.74 315.50v2.4 M401.95 315.50v2.4 M410.16 315.50v2.4 M418.37 315.50v2.4 M426.58 315.50v2.4 M434.79 315.50v2.4 M443.00 315.50v2.4 M36.60 310.98h-2.4 M36.60 301.93h-2.4 M36.60 292.89h-2.4 M36.60 283.84h-2.4 M36.60 274.80h-2.4 M36.60 265.75h-2.4 M36.60 256.70h-2.4 M36.60 247.66h-2.4 M36.60 238.61h-2.4 M36.60 229.57h-2.4 M36.60 220.52h-2.4" stroke="#222" stroke-width="0.95" fill="none"/>
<text transform="translate(41.70 319.80) rotate(-90) scale(1.22 1)" font-size="5.6" text-anchor="end" stroke="#000" stroke-width="0.16">(0)</text>
<text transform="translate(41.70 330.70) rotate(-90) scale(1.22 1)" font-size="5.6" text-anchor="end" stroke="#000" stroke-width="0.16">(0,1)</text>
<text transform="translate(49.92 319.80) rotate(-90) scale(1.22 1)" font-size="5.6" text-anchor="end" stroke="#000" stroke-width="0.16">(1)</text>
<text transform="translate(49.92 330.70) rotate(-90) scale(1.22 1)" font-size="5.6" text-anchor="end" stroke="#000" stroke-width="0.16">(0,1)</text>
<text transform="translate(58.12 319.80) rotate(-90) scale(1.22 1)" font-size="5.6" text-anchor="end" stroke="#000" stroke-width="0.16">(2)</text>
<text transform="translate(58.12 330.70) rotate(-90) scale(1.22 1)" font-size="5.6" text-anchor="end" stroke="#000" stroke-width="0.16">(0,1)</text>
<text transform="translate(66.34 319.80) rotate(-90) scale(1.22 1)" font-size="5.6" text-anchor="end" stroke="#000" stroke-width="0.16">(3)</text>
<text transform="translate(66.34 330.70) rotate(-90) scale(1.22 1)" font-size="5.6" text-anchor="end" stroke="#000" stroke-width="0.16">(0,1)</text>
<text transform="translate(74.55 319.80) rotate(-90) scale(1.22 1)" font-size="5.6" text-anchor="end" stroke="#000" stroke-width="0.16">(4)</text>
<text transform="translate(74.55 330.70) rotate(-90) scale(1.22 1)" font-size="5.6" text-anchor="end" stroke="#000" stroke-width="0.16">(0,1)</text>
<text transform="translate(82.75 319.80) rotate(-90) scale(1.22 1)" font-size="5.6" text-anchor="end" stroke="#000" stroke-width="0.16">(0)</text>
<text transform="translate(82.75 330.70) rotate(-90) scale(1.22 1)" font-size="5.6" text-anchor="end" stroke="#000" stroke-width="0.16">(0,2)</text>
<text transform="translate(90.97 319.80) rotate(-90) scale(1.22 1)" font-size="5.6" text-anchor="end" stroke="#000" stroke-width="0.16">(1)</text>
<text transform="translate(90.97 330.70) rotate(-90) scale(1.22 1)" font-size="5.6" text-anchor="end" stroke="#000" stroke-width="0.16">(0,2)</text>
<text transform="translate(99.18 319.80) rotate(-90) scale(1.22 1)" font-size="5.6" text-anchor="end" stroke="#000" stroke-width="0.16">(0)</text>
<text transform="translate(99.18 330.70) rotate(-90) scale(1.22 1)" font-size="5.6" text-anchor="end" stroke="#000" stroke-width="0.16">(0,3)</text>
<text transform="translate(107.39 319.80) rotate(-90) scale(1.22 1)" font-size="5.6" text-anchor="end" stroke="#000" stroke-width="0.16">(1)</text>
<text transform="translate(107.39 330.70) rotate(-90) scale(1.22 1)" font-size="5.6" text-anchor="end" stroke="#000" stroke-width="0.16">(0,3)</text>
<text transform="translate(115.59 319.80) rotate(-90) scale(1.22 1)" font-size="5.6" text-anchor="end" stroke="#000" stroke-width="0.16">(0)</text>
<text transform="translate(115.59 330.70) rotate(-90) scale(1.22 1)" font-size="5.6" text-anchor="end" stroke="#000" stroke-width="0.16">(0,4)</text>
<text transform="translate(123.81 319.80) rotate(-90) scale(1.22 1)" font-size="5.6" text-anchor="end" stroke="#000" stroke-width="0.16">(1)</text>
<text transform="translate(123.81 330.70) rotate(-90) scale(1.22 1)" font-size="5.6" text-anchor="end" stroke="#000" stroke-width="0.16">(0,4)</text>
<text transform="translate(132.02 319.80) rotate(-90) scale(1.22 1)" font-size="5.6" text-anchor="end" stroke="#000" stroke-width="0.16">(0)</text>
<text transform="translate(132.02 330.70) rotate(-90) scale(1.22 1)" font-size="5.6" text-anchor="end" stroke="#000" stroke-width="0.16">(1,2)</text>
<text transform="translate(140.23 319.80) rotate(-90) scale(1.22 1)" font-size="5.6" text-anchor="end" stroke="#000" stroke-width="0.16">(1)</text>
<text transform="translate(140.23 330.70) rotate(-90) scale(1.22 1)" font-size="5.6" text-anchor="end" stroke="#000" stroke-width="0.16">(1,2)</text>
<text transform="translate(148.44 319.80) rotate(-90) scale(1.22 1)" font-size="5.6" text-anchor="end" stroke="#000" stroke-width="0.16">(0)</text>
<text transform="translate(148.44 330.70) rotate(-90) scale(1.22 1)" font-size="5.6" text-anchor="end" stroke="#000" stroke-width="0.16">(1,3)</text>
<text transform="translate(156.65 319.80) rotate(-90) scale(1.22 1)" font-size="5.6" text-anchor="end" stroke="#000" stroke-width="0.16">(1)</text>
<text transform="translate(156.65 330.70) rotate(-90) scale(1.22 1)" font-size="5.6" text-anchor="end" stroke="#000" stroke-width="0.16">(1,3)</text>
<text transform="translate(164.86 319.80) rotate(-90) scale(1.22 1)" font-size="5.6" text-anchor="end" stroke="#000" stroke-width="0.16">(0)</text>
<text transform="translate(164.86 330.70) rotate(-90) scale(1.22 1)" font-size="5.6" text-anchor="end" stroke="#000" stroke-width="0.16">(1,4)</text>
<text transform="translate(173.06 319.80) rotate(-90) scale(1.22 1)" font-size="5.6" text-anchor="end" stroke="#000" stroke-width="0.16">(1)</text>
<text transform="translate(173.06 330.70) rotate(-90) scale(1.22 1)" font-size="5.6" text-anchor="end" stroke="#000" stroke-width="0.16">(1,4)</text>
<text transform="translate(181.28 319.80) rotate(-90) scale(1.22 1)" font-size="5.6" text-anchor="end" stroke="#000" stroke-width="0.16">(2)</text>
<text transform="translate(181.28 330.70) rotate(-90) scale(1.22 1)" font-size="5.6" text-anchor="end" stroke="#000" stroke-width="0.16">(0,2)</text>
<text transform="translate(189.49 319.80) rotate(-90) scale(1.22 1)" font-size="5.6" text-anchor="end" stroke="#000" stroke-width="0.16">(3)</text>
<text transform="translate(189.49 330.70) rotate(-90) scale(1.22 1)" font-size="5.6" text-anchor="end" stroke="#000" stroke-width="0.16">(0,2)</text>
<text transform="translate(197.70 319.80) rotate(-90) scale(1.22 1)" font-size="5.6" text-anchor="end" stroke="#000" stroke-width="0.16">(4)</text>
<text transform="translate(197.70 330.70) rotate(-90) scale(1.22 1)" font-size="5.6" text-anchor="end" stroke="#000" stroke-width="0.16">(0,2)</text>
<text transform="translate(205.91 319.80) rotate(-90) scale(1.22 1)" font-size="5.6" text-anchor="end" stroke="#000" stroke-width="0.16">(2)</text>
<text transform="translate(205.91 330.70) rotate(-90) scale(1.22 1)" font-size="5.6" text-anchor="end" stroke="#000" stroke-width="0.16">(0,3)</text>
<text transform="translate(214.12 319.80) rotate(-90) scale(1.22 1)" font-size="5.6" text-anchor="end" stroke="#000" stroke-width="0.16">(3)</text>
<text transform="translate(214.12 330.70) rotate(-90) scale(1.22 1)" font-size="5.6" text-anchor="end" stroke="#000" stroke-width="0.16">(0,3)</text>
<text transform="translate(222.33 319.80) rotate(-90) scale(1.22 1)" font-size="5.6" text-anchor="end" stroke="#000" stroke-width="0.16">(4)</text>
<text transform="translate(222.33 330.70) rotate(-90) scale(1.22 1)" font-size="5.6" text-anchor="end" stroke="#000" stroke-width="0.16">(0,3)</text>
<text transform="translate(230.54 319.80) rotate(-90) scale(1.22 1)" font-size="5.6" text-anchor="end" stroke="#000" stroke-width="0.16">(2)</text>
<text transform="translate(230.54 330.70) rotate(-90) scale(1.22 1)" font-size="5.6" text-anchor="end" stroke="#000" stroke-width="0.16">(0,4)</text>
<text transform="translate(238.75 319.80) rotate(-90) scale(1.22 1)" font-size="5.6" text-anchor="end" stroke="#000" stroke-width="0.16">(3)</text>
<text transform="translate(238.75 330.70) rotate(-90) scale(1.22 1)" font-size="5.6" text-anchor="end" stroke="#000" stroke-width="0.16">(0,4)</text>
<text transform="translate(246.96 319.80) rotate(-90) scale(1.22 1)" font-size="5.6" text-anchor="end" stroke="#000" stroke-width="0.16">(4)</text>
<text transform="translate(246.96 330.70) rotate(-90) scale(1.22 1)" font-size="5.6" text-anchor="end" stroke="#000" stroke-width="0.16">(0,4)</text>
<text transform="translate(255.17 319.80) rotate(-90) scale(1.22 1)" font-size="5.6" text-anchor="end" stroke="#000" stroke-width="0.16">(2)</text>
<text transform="translate(255.17 330.70) rotate(-90) scale(1.22 1)" font-size="5.6" text-anchor="end" stroke="#000" stroke-width="0.16">(1,2)</text>
<text transform="translate(263.38 319.80) rotate(-90) scale(1.22 1)" font-size="5.6" text-anchor="end" stroke="#000" stroke-width="0.16">(3)</text>
<text transform="translate(263.38 330.70) rotate(-90) scale(1.22 1)" font-size="5.6" text-anchor="end" stroke="#000" stroke-width="0.16">(1,2)</text>
<text transform="translate(271.59 319.80) rotate(-90) scale(1.22 1)" font-size="5.6" text-anchor="end" stroke="#000" stroke-width="0.16">(4)</text>
<text transform="translate(271.59 330.70) rotate(-90) scale(1.22 1)" font-size="5.6" text-anchor="end" stroke="#000" stroke-width="0.16">(1,2)</text>
<text transform="translate(279.80 319.80) rotate(-90) scale(1.22 1)" font-size="5.6" text-anchor="end" stroke="#000" stroke-width="0.16">(2)</text>
<text transform="translate(279.80 330.70) rotate(-90) scale(1.22 1)" font-size="5.6" text-anchor="end" stroke="#000" stroke-width="0.16">(1,3)</text>
<text transform="translate(288.01 319.80) rotate(-90) scale(1.22 1)" font-size="5.6" text-anchor="end" stroke="#000" stroke-width="0.16">(3)</text>
<text transform="translate(288.01 330.70) rotate(-90) scale(1.22 1)" font-size="5.6" text-anchor="end" stroke="#000" stroke-width="0.16">(1,3)</text>
<text transform="translate(296.22 319.80) rotate(-90) scale(1.22 1)" font-size="5.6" text-anchor="end" stroke="#000" stroke-width="0.16">(4)</text>
<text transform="translate(296.22 330.70) rotate(-90) scale(1.22 1)" font-size="5.6" text-anchor="end" stroke="#000" stroke-width="0.16">(1,3)</text>
<text transform="translate(304.43 319.80) rotate(-90) scale(1.22 1)" font-size="5.6" text-anchor="end" stroke="#000" stroke-width="0.16">(2)</text>
<text transform="translate(304.43 330.70) rotate(-90) scale(1.22 1)" font-size="5.6" text-anchor="end" stroke="#000" stroke-width="0.16">(1,4)</text>
<text transform="translate(312.64 319.80) rotate(-90) scale(1.22 1)" font-size="5.6" text-anchor="end" stroke="#000" stroke-width="0.16">(3)</text>
<text transform="translate(312.64 330.70) rotate(-90) scale(1.22 1)" font-size="5.6" text-anchor="end" stroke="#000" stroke-width="0.16">(1,4)</text>
<text transform="translate(320.85 319.80) rotate(-90) scale(1.22 1)" font-size="5.6" text-anchor="end" stroke="#000" stroke-width="0.16">(4)</text>
<text transform="translate(320.85 330.70) rotate(-90) scale(1.22 1)" font-size="5.6" text-anchor="end" stroke="#000" stroke-width="0.16">(1,4)</text>
<text transform="translate(329.06 319.80) rotate(-90) scale(1.22 1)" font-size="5.6" text-anchor="end" stroke="#000" stroke-width="0.16">(0)</text>
<text transform="translate(329.06 330.70) rotate(-90) scale(1.22 1)" font-size="5.6" text-anchor="end" stroke="#000" stroke-width="0.16">(2,3)</text>
<text transform="translate(337.27 319.80) rotate(-90) scale(1.22 1)" font-size="5.6" text-anchor="end" stroke="#000" stroke-width="0.16">(1)</text>
<text transform="translate(337.27 330.70) rotate(-90) scale(1.22 1)" font-size="5.6" text-anchor="end" stroke="#000" stroke-width="0.16">(2,3)</text>
<text transform="translate(345.48 319.80) rotate(-90) scale(1.22 1)" font-size="5.6" text-anchor="end" stroke="#000" stroke-width="0.16">(2)</text>
<text transform="translate(345.48 330.70) rotate(-90) scale(1.22 1)" font-size="5.6" text-anchor="end" stroke="#000" stroke-width="0.16">(2,3)</text>
<text transform="translate(353.69 319.80) rotate(-90) scale(1.22 1)" font-size="5.6" text-anchor="end" stroke="#000" stroke-width="0.16">(3)</text>
<text transform="translate(353.69 330.70) rotate(-90) scale(1.22 1)" font-size="5.6" text-anchor="end" stroke="#000" stroke-width="0.16">(2,3)</text>
<text transform="translate(361.90 319.80) rotate(-90) scale(1.22 1)" font-size="5.6" text-anchor="end" stroke="#000" stroke-width="0.16">(4)</text>
<text transform="translate(361.90 330.70) rotate(-90) scale(1.22 1)" font-size="5.6" text-anchor="end" stroke="#000" stroke-width="0.16">(2,3)</text>
<text transform="translate(370.11 319.80) rotate(-90) scale(1.22 1)" font-size="5.6" text-anchor="end" stroke="#000" stroke-width="0.16">(0)</text>
<text transform="translate(370.11 330.70) rotate(-90) scale(1.22 1)" font-size="5.6" text-anchor="end" stroke="#000" stroke-width="0.16">(2,4)</text>
<text transform="translate(378.32 319.80) rotate(-90) scale(1.22 1)" font-size="5.6" text-anchor="end" stroke="#000" stroke-width="0.16">(1)</text>
<text transform="translate(378.32 330.70) rotate(-90) scale(1.22 1)" font-size="5.6" text-anchor="end" stroke="#000" stroke-width="0.16">(2,4)</text>
<text transform="translate(386.53 319.80) rotate(-90) scale(1.22 1)" font-size="5.6" text-anchor="end" stroke="#000" stroke-width="0.16">(2)</text>
<text transform="translate(386.53 330.70) rotate(-90) scale(1.22 1)" font-size="5.6" text-anchor="end" stroke="#000" stroke-width="0.16">(2,4)</text>
<text transform="translate(394.74 319.80) rotate(-90) scale(1.22 1)" font-size="5.6" text-anchor="end" stroke="#000" stroke-width="0.16">(3)</text>
<text transform="translate(394.74 330.70) rotate(-90) scale(1.22 1)" font-size="5.6" text-anchor="end" stroke="#000" stroke-width="0.16">(2,4)</text>
<text transform="translate(402.95 319.80) rotate(-90) scale(1.22 1)" font-size="5.6" text-anchor="end" stroke="#000" stroke-width="0.16">(4)</text>
<text transform="translate(402.95 330.70) rotate(-90) scale(1.22 1)" font-size="5.6" text-anchor="end" stroke="#000" stroke-width="0.16">(2,4)</text>
<text transform="translate(411.16 319.80) rotate(-90) scale(1.22 1)" font-size="5.6" text-anchor="end" stroke="#000" stroke-width="0.16">(0)</text>
<text transform="translate(411.16 330.70) rotate(-90) scale(1.22 1)" font-size="5.6" text-anchor="end" stroke="#000" stroke-width="0.16">(3,4)</text>
<text transform="translate(419.37 319.80) rotate(-90) scale(1.22 1)" font-size="5.6" text-anchor="end" stroke="#000" stroke-width="0.16">(1)</text>
<text transform="translate(419.37 330.70) rotate(-90) scale(1.22 1)" font-size="5.6" text-anchor="end" stroke="#000" stroke-width="0.16">(3,4)</text>
<text transform="translate(427.58 319.80) rotate(-90) scale(1.22 1)" font-size="5.6" text-anchor="end" stroke="#000" stroke-width="0.16">(2)</text>
<text transform="translate(427.58 330.70) rotate(-90) scale(1.22 1)" font-size="5.6" text-anchor="end" stroke="#000" stroke-width="0.16">(3,4)</text>
<text transform="translate(435.79 319.80) rotate(-90) scale(1.22 1)" font-size="5.6" text-anchor="end" stroke="#000" stroke-width="0.16">(3)</text>
<text transform="translate(435.79 330.70) rotate(-90) scale(1.22 1)" font-size="5.6" text-anchor="end" stroke="#000" stroke-width="0.16">(3,4)</text>
<text transform="translate(444.00 319.80) rotate(-90) scale(1.22 1)" font-size="5.6" text-anchor="end" stroke="#000" stroke-width="0.16">(4)</text>
<text transform="translate(444.00 330.70) rotate(-90) scale(1.22 1)" font-size="5.6" text-anchor="end" stroke="#000" stroke-width="0.16">(3,4)</text>
<text transform="translate(33.40 325.90) scale(1.03 1)" font-size="6.5" text-anchor="end">down</text>
<text transform="translate(33.40 340.90) scale(1.03 1)" font-size="6.5" text-anchor="end">up</text>
<text transform="translate(44.81 352.70) scale(1.05 1)" font-size="6.5" text-anchor="middle">0th order</text>
<text transform="translate(114.59 352.70) scale(1.01 1)" font-size="6.5" text-anchor="middle">singles</text>
<text transform="translate(303.43 352.70) scale(1.02 1)" font-size="6.5" text-anchor="middle">doubles</text>
<text transform="translate(438.89 352.70) scale(1.07 1)" font-size="6.5" text-anchor="middle">triples</text>
<text transform="translate(31.30 310.98) rotate(-90) scale(1.08 1)" font-size="6.3" text-anchor="middle">0</text>
<text transform="translate(31.30 301.93) rotate(-90) scale(1.08 1)" font-size="6.3" text-anchor="middle">1</text>
<text transform="translate(31.30 292.89) rotate(-90) scale(1.08 1)" font-size="6.3" text-anchor="middle">2</text>
<text transform="translate(31.30 283.84) rotate(-90) scale(1.08 1)" font-size="6.3" text-anchor="middle">3</text>
<text transform="translate(31.30 274.80) rotate(-90) scale(1.08 1)" font-size="6.3" text-anchor="middle">4</text>
<text transform="translate(31.30 265.75) rotate(-90) scale(1.08 1)" font-size="6.3" text-anchor="middle">5</text>
<text transform="translate(31.30 256.70) rotate(-90) scale(1.08 1)" font-size="6.3" text-anchor="middle">6</text>
<text transform="translate(31.30 247.66) rotate(-90) scale(1.08 1)" font-size="6.3" text-anchor="middle">7</text>
<text transform="translate(31.30 238.61) rotate(-90) scale(1.08 1)" font-size="6.3" text-anchor="middle">8</text>
<text transform="translate(31.30 229.57) rotate(-90) scale(1.08 1)" font-size="6.3" text-anchor="middle">9</text>
<text transform="translate(31.30 220.52) rotate(-90) scale(1.08 1)" font-size="6.3" text-anchor="middle">10</text>
<text transform="translate(13.70 234.09) rotate(-90) scale(1.14 1)" font-size="6.1" text-anchor="middle">Crystal-field</text>
<text transform="translate(21.60 234.09) rotate(-90) scale(1.2 1)" font-size="6.1" text-anchor="middle">excitations</text>
<text transform="translate(13.70 279.32) rotate(-90) scale(1.18 1)" font-size="6.1" text-anchor="middle">Spin-flip</text>
<text transform="translate(21.60 279.32) rotate(-90) scale(1.2 1)" font-size="6.1" text-anchor="middle">excitations</text>
<text transform="translate(5.50 255.70) rotate(-90)" font-size="7.8" text-anchor="middle" stroke="#000" stroke-width="0.2">cRPA+ED</text>
<text transform="translate(0.50 199.80) scale(0.9 1)" font-size="12.3" text-anchor="start" stroke="#000" stroke-width="0.15">(b)</text>
<defs><linearGradient id="gPurples186"><stop offset="0" stop-color="#fcfbfd"/><stop offset="0.125" stop-color="#efedf5"/><stop offset="0.25" stop-color="#dadaeb"/><stop offset="0.375" stop-color="#bcbddc"/><stop offset="0.5" stop-color="#9e9ac8"/><stop offset="0.625" stop-color="#807dba"/><stop offset="0.75" stop-color="#6a51a3"/><stop offset="0.875" stop-color="#54278f"/><stop offset="1" stop-color="#3f007d"/></linearGradient></defs>
<rect x="38.20" y="191.00" width="13.50" height="4.80" fill="url(#gPurples186)"/>
<text transform="translate(38.20 204.70) scale(1.03 1)" font-size="6.5" text-anchor="middle">0</text>
<text transform="translate(51.70 204.70) scale(1.03 1)" font-size="6.5" text-anchor="middle">1</text>
<path d="M38.20 195.80v1.6 M51.70 195.80v1.6" stroke="#333" stroke-width="0.7" fill="none"/>
<defs><linearGradient id="gGreens186"><stop offset="0" stop-color="#f7fcf5"/><stop offset="0.125" stop-color="#e5f5e0"/><stop offset="0.25" stop-color="#c7e9c0"/><stop offset="0.375" stop-color="#a1d99b"/><stop offset="0.5" stop-color="#74c476"/><stop offset="0.625" stop-color="#41ab5d"/><stop offset="0.75" stop-color="#238b45"/><stop offset="0.875" stop-color="#006d2c"/><stop offset="1" stop-color="#00441b"/></linearGradient></defs>
<rect x="65.00" y="191.00" width="99.20" height="4.80" fill="url(#gGreens186)"/>
<text transform="translate(65.00 204.70) scale(1.03 1)" font-size="6.5" text-anchor="middle">0.0</text>
<text transform="translate(84.84 204.70) scale(1.03 1)" font-size="6.5" text-anchor="middle">0.2</text>
<text transform="translate(104.68 204.70) scale(1.03 1)" font-size="6.5" text-anchor="middle">0.4</text>
<text transform="translate(124.52 204.70) scale(1.03 1)" font-size="6.5" text-anchor="middle">0.6</text>
<text transform="translate(144.36 204.70) scale(1.03 1)" font-size="6.5" text-anchor="middle">0.8</text>
<text transform="translate(164.20 204.70) scale(1.03 1)" font-size="6.5" text-anchor="middle">1.0</text>
<path d="M65.00 195.80v1.6 M84.84 195.80v1.6 M104.68 195.80v1.6 M124.52 195.80v1.6 M144.36 195.80v1.6 M164.20 195.80v1.6" stroke="#333" stroke-width="0.7" fill="none"/>
<defs><linearGradient id="gOranges186"><stop offset="0" stop-color="#fff5eb"/><stop offset="0.125" stop-color="#fee6ce"/><stop offset="0.25" stop-color="#fdd0a2"/><stop offset="0.375" stop-color="#fdae6b"/><stop offset="0.5" stop-color="#fd8d3c"/><stop offset="0.625" stop-color="#f16913"/><stop offset="0.75" stop-color="#d94801"/><stop offset="0.875" stop-color="#a63603"/><stop offset="1" stop-color="#7f2704"/></linearGradient></defs>
<rect x="201.70" y="191.00" width="203.40" height="4.80" fill="url(#gOranges186)"/>
<text transform="translate(201.70 204.70) scale(1.03 1)" font-size="6.5" text-anchor="middle">0.0</text>
<text transform="translate(242.38 204.70) scale(1.03 1)" font-size="6.5" text-anchor="middle">0.2</text>
<text transform="translate(283.06 204.70) scale(1.03 1)" font-size="6.5" text-anchor="middle">0.4</text>
<text transform="translate(323.74 204.70) scale(1.03 1)" font-size="6.5" text-anchor="middle">0.6</text>
<text transform="translate(364.42 204.70) scale(1.03 1)" font-size="6.5" text-anchor="middle">0.8</text>
<text transform="translate(405.10 204.70) scale(1.03 1)" font-size="6.5" text-anchor="middle">1.0</text>
<path d="M201.70 195.80v1.6 M242.38 195.80v1.6 M283.06 195.80v1.6 M323.74 195.80v1.6 M364.42 195.80v1.6 M405.10 195.80v1.6" stroke="#333" stroke-width="0.7" fill="none"/>
<defs><linearGradient id="gReds186"><stop offset="0" stop-color="#fff5f0"/><stop offset="0.125" stop-color="#fee0d2"/><stop offset="0.25" stop-color="#fcbba1"/><stop offset="0.375" stop-color="#fc9272"/><stop offset="0.5" stop-color="#fb6a4a"/><stop offset="0.625" stop-color="#ef3b2c"/><stop offset="0.75" stop-color="#cb181d"/><stop offset="0.875" stop-color="#a50f15"/><stop offset="1" stop-color="#67000d"/></linearGradient></defs>
<rect x="432.30" y="191.00" width="13.00" height="4.80" fill="url(#gReds186)"/>
<text transform="translate(432.30 204.70) scale(1.03 1)" font-size="6.5" text-anchor="middle">0</text>
<text transform="translate(445.30 204.70) scale(1.03 1)" font-size="6.5" text-anchor="middle">5</text>
<path d="M432.30 195.80v1.6 M445.30 195.80v1.6" stroke="#333" stroke-width="0.7" fill="none"/>
<text transform="translate(437.30 212.40) scale(1.1 1)" font-size="6.5" text-anchor="middle">1e−5</text>
<text x="24.90" y="195.80" font-size="6.20" fill="#333">|</text><text x="26.65" y="196.40" font-size="7.40" fill="#333">c</text><text x="30.30" y="197.30" font-size="4.90" fill="#333">i</text><text x="31.80" y="195.80" font-size="6.20" fill="#333">|</text><text x="33.80" y="193.80" font-size="4.60" fill="#333">2</text>
<line x1="500.86" y1="21.20" x2="500.86" y2="148.65" stroke="#e6e6e6" stroke-width="0.7"/>
<line x1="511.82" y1="21.20" x2="511.82" y2="148.65" stroke="#e6e6e6" stroke-width="0.7"/>
<line x1="522.78" y1="21.20" x2="522.78" y2="148.65" stroke="#e6e6e6" stroke-width="0.7"/>
<line x1="533.74" y1="21.20" x2="533.74" y2="148.65" stroke="#e6e6e6" stroke-width="0.7"/>
<line x1="484.2" y1="44.38" x2="550.2" y2="44.38" stroke="#dedede" stroke-width="0.7"/>
<line x1="484.2" y1="79.13" x2="550.2" y2="79.13" stroke="#dedede" stroke-width="0.7"/>
<line x1="484.2" y1="90.72" x2="550.2" y2="90.72" stroke="#dedede" stroke-width="0.7"/>
<line x1="484.2" y1="113.89" x2="550.2" y2="113.89" stroke="#dedede" stroke-width="0.7"/>
<rect x="489.90" y="139.95" width="53.98" height="5.8" fill="#74c476"/>
<rect x="543.88" y="139.95" width="0.82" height="5.8" fill="#fd8d3c"/>
<text transform="translate(482.30 145.35) scale(1.1 1)" font-size="6.4" text-anchor="end" stroke="#111" stroke-width="0.15">0</text>
<rect x="489.90" y="128.37" width="54.42" height="5.8" fill="#74c476"/>
<rect x="544.32" y="128.37" width="0.38" height="5.8" fill="#fd8d3c"/>
<text transform="translate(482.30 133.77) scale(1.1 1)" font-size="6.4" text-anchor="end" stroke="#111" stroke-width="0.15">1</text>
<rect x="489.90" y="116.78" width="54.42" height="5.8" fill="#74c476"/>
<rect x="544.32" y="116.78" width="0.38" height="5.8" fill="#fd8d3c"/>
<text transform="translate(482.30 122.18) scale(1.1 1)" font-size="6.4" text-anchor="end" stroke="#111" stroke-width="0.15">2</text>
<rect x="489.90" y="105.19" width="12.28" height="5.8" fill="#9e9ac8"/>
<rect x="502.18" y="105.19" width="42.52" height="5.8" fill="#fd8d3c"/>
<text transform="translate(482.30 110.59) scale(1.1 1)" font-size="6.4" text-anchor="end" stroke="#111" stroke-width="0.15">3</text>
<rect x="489.90" y="93.61" width="12.28" height="5.8" fill="#9e9ac8"/>
<rect x="502.18" y="93.61" width="42.52" height="5.8" fill="#fd8d3c"/>
<text transform="translate(482.30 99.01) scale(1.1 1)" font-size="6.4" text-anchor="end" stroke="#111" stroke-width="0.15">4</text>
<rect x="489.90" y="82.03" width="52.33" height="5.8" fill="#74c476"/>
<rect x="542.23" y="82.03" width="2.47" height="5.8" fill="#fd8d3c"/>
<text transform="translate(482.30 87.43) scale(1.1 1)" font-size="6.4" text-anchor="end" stroke="#111" stroke-width="0.15">5</text>
<rect x="489.90" y="70.44" width="53.16" height="5.8" fill="#74c476"/>
<rect x="543.06" y="70.44" width="1.64" height="5.8" fill="#fd8d3c"/>
<text transform="translate(482.30 75.84) scale(1.1 1)" font-size="6.4" text-anchor="end" stroke="#111" stroke-width="0.15">6</text>
<rect x="489.90" y="58.86" width="29.48" height="5.8" fill="#74c476"/>
<rect x="519.38" y="58.86" width="25.32" height="5.8" fill="#fd8d3c"/>
<text transform="translate(482.30 64.25) scale(1.1 1)" font-size="6.4" text-anchor="end" stroke="#111" stroke-width="0.15">7</text>
<rect x="489.90" y="47.27" width="29.48" height="5.8" fill="#74c476"/>
<rect x="519.38" y="47.27" width="25.32" height="5.8" fill="#fd8d3c"/>
<text transform="translate(482.30 52.67) scale(1.1 1)" font-size="6.4" text-anchor="end" stroke="#111" stroke-width="0.15">8</text>
<rect x="489.90" y="35.69" width="54.80" height="5.8" fill="#fd8d3c"/>
<text transform="translate(482.30 41.09) scale(1.1 1)" font-size="6.4" text-anchor="end" stroke="#111" stroke-width="0.15">9</text>
<rect x="489.90" y="24.10" width="54.80" height="5.8" fill="#fd8d3c"/>
<text transform="translate(482.30 29.50) scale(1.1 1)" font-size="6.4" text-anchor="end" stroke="#111" stroke-width="0.15">10</text>
<line x1="484.1" y1="67.50" x2="550.4" y2="67.50" stroke="#2a2a2a" stroke-width="1.1"/>
<line x1="484.1" y1="137.50" x2="550.4" y2="137.50" stroke="#2a2a2a" stroke-width="1.1"/>
<text transform="translate(489.90 156.00) scale(1.03 1)" font-size="6.5" text-anchor="middle">0.0</text>
<text transform="translate(500.86 156.00) scale(1.03 1)" font-size="6.5" text-anchor="middle">0.2</text>
<text transform="translate(511.82 156.00) scale(1.03 1)" font-size="6.5" text-anchor="middle">0.4</text>
<text transform="translate(522.78 156.00) scale(1.03 1)" font-size="6.5" text-anchor="middle">0.6</text>
<text transform="translate(533.74 156.00) scale(1.03 1)" font-size="6.5" text-anchor="middle">0.8</text>
<text transform="translate(544.70 156.00) scale(1.03 1)" font-size="6.5" text-anchor="middle">1.0</text>
<text transform="translate(470.90 84.90) rotate(-90) scale(1.02 1)" font-size="6.5" text-anchor="middle" stroke="#000" stroke-width="0.1">VMC optimized state</text>
<text transform="translate(458.40 14.60) scale(0.88 1)" font-size="12.6" text-anchor="start" stroke="#000" stroke-width="0.15">(c)</text>
<text x="508.3" y="165.00" font-size="10.5" stroke="#000" stroke-width="0.3" transform="translate(76.25 0) scale(0.85 1)">∑</text>
<text x="514.40" y="165.80" font-size="7.00" fill="#333">|</text><text x="516.06" y="166.37" font-size="7.03" fill="#333">c</text><text x="519.53" y="167.23" font-size="4.66" fill="#333">i</text><text x="520.95" y="165.80" font-size="7.00" fill="#333">|</text><text x="522.86" y="163.90" font-size="4.37" fill="#333">2</text>
<text transform="translate(511.20 171.00)" font-size="4.4" text-anchor="middle">i</text>
<text transform="translate(516.80 6.10) scale(1.05 1)" font-size="5.5" text-anchor="middle">CI order</text>
<rect x="483.00" y="8.80" width="6.0" height="4.1" fill="#9e9ac8"/>
<text transform="translate(491.60 13.00) scale(1.05 1)" font-size="6.4" text-anchor="start">0</text>
<rect x="501.00" y="8.80" width="6.0" height="4.1" fill="#74c476"/>
<text transform="translate(509.60 13.00) scale(1.05 1)" font-size="6.4" text-anchor="start">1</text>
<rect x="519.60" y="8.80" width="6.0" height="4.1" fill="#fd8d3c"/>
<text transform="translate(528.20 13.00) scale(1.05 1)" font-size="6.4" text-anchor="start">2</text>
<rect x="538.00" y="8.80" width="6.0" height="4.1" fill="#fb6a4a"/>
<text transform="translate(546.60 13.00) scale(1.05 1)" font-size="6.4" text-anchor="start">3</text>
<line x1="500.86" y1="207.50" x2="500.86" y2="334.95" stroke="#e6e6e6" stroke-width="0.7"/>
<line x1="511.82" y1="207.50" x2="511.82" y2="334.95" stroke="#e6e6e6" stroke-width="0.7"/>
<line x1="522.78" y1="207.50" x2="522.78" y2="334.95" stroke="#e6e6e6" stroke-width="0.7"/>
<line x1="533.74" y1="207.50" x2="533.74" y2="334.95" stroke="#e6e6e6" stroke-width="0.7"/>
<line x1="484.2" y1="230.68" x2="550.2" y2="230.68" stroke="#dedede" stroke-width="0.7"/>
<line x1="484.2" y1="265.43" x2="550.2" y2="265.43" stroke="#dedede" stroke-width="0.7"/>
<line x1="484.2" y1="277.02" x2="550.2" y2="277.02" stroke="#dedede" stroke-width="0.7"/>
<line x1="484.2" y1="300.19" x2="550.2" y2="300.19" stroke="#dedede" stroke-width="0.7"/>
<rect x="489.90" y="326.25" width="54.53" height="5.8" fill="#74c476"/>
<rect x="544.43" y="326.25" width="0.27" height="5.8" fill="#fd8d3c"/>
<text transform="translate(482.30 331.65) scale(1.1 1)" font-size="6.4" text-anchor="end" stroke="#111" stroke-width="0.15">0</text>
<rect x="489.90" y="314.67" width="54.80" height="5.8" fill="#74c476"/>
<text transform="translate(482.30 320.07) scale(1.1 1)" font-size="6.4" text-anchor="end" stroke="#111" stroke-width="0.15">1</text>
<rect x="489.90" y="303.08" width="54.80" height="5.8" fill="#74c476"/>
<text transform="translate(482.30 308.48) scale(1.1 1)" font-size="6.4" text-anchor="end" stroke="#111" stroke-width="0.15">2</text>
<rect x="489.90" y="291.50" width="30.41" height="5.8" fill="#9e9ac8"/>
<rect x="520.31" y="291.50" width="24.39" height="5.8" fill="#fd8d3c"/>
<text transform="translate(482.30 296.89) scale(1.1 1)" font-size="6.4" text-anchor="end" stroke="#111" stroke-width="0.15">3</text>
<rect x="489.90" y="279.91" width="30.41" height="5.8" fill="#9e9ac8"/>
<rect x="520.31" y="279.91" width="24.39" height="5.8" fill="#fd8d3c"/>
<text transform="translate(482.30 285.31) scale(1.1 1)" font-size="6.4" text-anchor="end" stroke="#111" stroke-width="0.15">4</text>
<rect x="489.90" y="268.33" width="53.98" height="5.8" fill="#74c476"/>
<rect x="543.88" y="268.33" width="0.82" height="5.8" fill="#fd8d3c"/>
<text transform="translate(482.30 273.73) scale(1.1 1)" font-size="6.4" text-anchor="end" stroke="#111" stroke-width="0.15">5</text>
<rect x="489.90" y="256.74" width="53.98" height="5.8" fill="#74c476"/>
<rect x="543.88" y="256.74" width="0.82" height="5.8" fill="#fd8d3c"/>
<text transform="translate(482.30 262.14) scale(1.1 1)" font-size="6.4" text-anchor="end" stroke="#111" stroke-width="0.15">6</text>
<rect x="489.90" y="245.16" width="35.35" height="5.8" fill="#74c476"/>
<rect x="525.25" y="245.16" width="19.45" height="5.8" fill="#fd8d3c"/>
<text transform="translate(482.30 250.56) scale(1.1 1)" font-size="6.4" text-anchor="end" stroke="#111" stroke-width="0.15">7</text>
<rect x="489.90" y="233.57" width="35.35" height="5.8" fill="#74c476"/>
<rect x="525.25" y="233.57" width="19.45" height="5.8" fill="#fd8d3c"/>
<text transform="translate(482.30 238.97) scale(1.1 1)" font-size="6.4" text-anchor="end" stroke="#111" stroke-width="0.15">8</text>
<rect x="489.90" y="221.99" width="54.80" height="5.8" fill="#fd8d3c"/>
<text transform="translate(482.30 227.39) scale(1.1 1)" font-size="6.4" text-anchor="end" stroke="#111" stroke-width="0.15">9</text>
<rect x="489.90" y="210.40" width="54.80" height="5.8" fill="#fd8d3c"/>
<text transform="translate(482.30 215.80) scale(1.1 1)" font-size="6.4" text-anchor="end" stroke="#111" stroke-width="0.15">10</text>
<line x1="484.1" y1="253.85" x2="550.4" y2="253.85" stroke="#2a2a2a" stroke-width="1.1"/>
<line x1="484.1" y1="323.50" x2="550.4" y2="323.50" stroke="#2a2a2a" stroke-width="1.1"/>
<text transform="translate(489.90 342.30) scale(1.03 1)" font-size="6.5" text-anchor="middle">0.0</text>
<text transform="translate(500.86 342.30) scale(1.03 1)" font-size="6.5" text-anchor="middle">0.2</text>
<text transform="translate(511.82 342.30) scale(1.03 1)" font-size="6.5" text-anchor="middle">0.4</text>
<text transform="translate(522.78 342.30) scale(1.03 1)" font-size="6.5" text-anchor="middle">0.6</text>
<text transform="translate(533.74 342.30) scale(1.03 1)" font-size="6.5" text-anchor="middle">0.8</text>
<text transform="translate(544.70 342.30) scale(1.03 1)" font-size="6.5" text-anchor="middle">1.0</text>
<text transform="translate(470.90 271.20) rotate(-90) scale(1.02 1)" font-size="6.5" text-anchor="middle" stroke="#000" stroke-width="0.1">cRPA+ED state</text>
<text transform="translate(458.40 200.90) scale(0.88 1)" font-size="12.6" text-anchor="start" stroke="#000" stroke-width="0.15">(d)</text>
<text x="508.3" y="351.30" font-size="10.5" stroke="#000" stroke-width="0.3" transform="translate(76.25 0) scale(0.85 1)">∑</text>
<text x="514.40" y="352.10" font-size="7.00" fill="#333">|</text><text x="516.06" y="352.67" font-size="7.03" fill="#333">c</text><text x="519.53" y="353.53" font-size="4.66" fill="#333">i</text><text x="520.95" y="352.10" font-size="7.00" fill="#333">|</text><text x="522.86" y="350.20" font-size="4.37" fill="#333">2</text>
<text transform="translate(511.20 357.30)" font-size="4.4" text-anchor="middle">i</text>
<text transform="translate(516.80 192.40) scale(1.05 1)" font-size="5.5" text-anchor="middle">CI order</text>
<rect x="483.00" y="195.10" width="6.0" height="4.1" fill="#9e9ac8"/>
<text transform="translate(491.60 199.30) scale(1.05 1)" font-size="6.4" text-anchor="start">0</text>
<rect x="501.00" y="195.10" width="6.0" height="4.1" fill="#74c476"/>
<text transform="translate(509.60 199.30) scale(1.05 1)" font-size="6.4" text-anchor="start">1</text>
<rect x="519.60" y="195.10" width="6.0" height="4.1" fill="#fd8d3c"/>
<text transform="translate(528.20 199.30) scale(1.05 1)" font-size="6.4" text-anchor="start">2</text>
<rect x="538.00" y="195.10" width="6.0" height="4.1" fill="#fb6a4a"/>
<text transform="translate(546.60 199.30) scale(1.05 1)" font-size="6.4" text-anchor="start">3</text>
<defs><radialGradient id="gcy" cx="0.4" cy="0.38" r="0.65"><stop offset="0" stop-color="#d4f5f7"/><stop offset="0.5" stop-color="#92dfe6"/><stop offset="1" stop-color="#45b2c2"/></radialGradient><radialGradient id="gye" cx="0.4" cy="0.38" r="0.65"><stop offset="0" stop-color="#fdfce4"/><stop offset="0.5" stop-color="#f0ec98"/><stop offset="1" stop-color="#c8bf48"/></radialGradient><radialGradient id="gor" cx="0.45" cy="0.45" r="0.6"><stop offset="0" stop-color="#f8b040"/><stop offset="1" stop-color="#e88a28"/></radialGradient></defs>
<defs><radialGradient id="gc" cx="0.4" cy="0.35" r="0.7"><stop offset="0" stop-color="#c08a66"/><stop offset="0.6" stop-color="#8a5434"/><stop offset="1" stop-color="#5c3018"/></radialGradient><radialGradient id="gh" cx="0.4" cy="0.35" r="0.7"><stop offset="0" stop-color="#ffffff"/><stop offset="1" stop-color="#e8c4c4"/></radialGradient></defs>
<text transform="translate(559.40 107.40) scale(0.9 1)" font-size="12.3" text-anchor="start" stroke="#000" stroke-width="0.15">(e)</text>
<line x1="574.40" y1="129.40" x2="566.90" y2="129.80" stroke="#b88070" stroke-width="0.8"/><line x1="578.60" y1="127.50" x2="573.90" y2="126.60" stroke="#b88070" stroke-width="0.8"/><line x1="589.80" y1="127.50" x2="594.50" y2="126.60" stroke="#b88070" stroke-width="0.8"/><line x1="594.00" y1="129.40" x2="601.40" y2="129.80" stroke="#b88070" stroke-width="0.8"/><line x1="584.20" y1="131.00" x2="584.20" y2="132.60" stroke="#b88070" stroke-width="0.8"/><path d="M574.40 129.40 L578.60 127.50 L589.80 127.50 L594.00 129.40 L584.20 131.00Z" stroke="#6e4026" stroke-width="1.7" fill="#9a6a50" fill-opacity="0.5" stroke-linejoin="round"/><circle cx="566.90" cy="129.80" r="1.15" fill="url(#gh)" stroke="#c89494" stroke-width="0.35"/><circle cx="573.90" cy="126.60" r="0.9" fill="url(#gh)" stroke="#c89494" stroke-width="0.35"/><circle cx="594.50" cy="126.60" r="0.9" fill="url(#gh)" stroke="#c89494" stroke-width="0.35"/><circle cx="601.40" cy="129.80" r="1.15" fill="url(#gh)" stroke="#c89494" stroke-width="0.35"/><circle cx="584.20" cy="132.60" r="0.9" fill="url(#gh)" stroke="#c89494" stroke-width="0.35"/><circle cx="574.40" cy="129.40" r="2.05" fill="url(#gc)"/><circle cx="578.60" cy="127.50" r="2.05" fill="url(#gc)"/><circle cx="589.80" cy="127.50" r="2.05" fill="url(#gc)"/><circle cx="594.00" cy="129.40" r="2.05" fill="url(#gc)"/><circle cx="584.20" cy="131.00" r="2.05" fill="url(#gc)"/><circle cx="584.20" cy="132.20" r="0.95" fill="url(#gh)" stroke="#c89494" stroke-width="0.3"/><ellipse cx="574.80" cy="126.10" rx="1.95" ry="1.61" fill="url(#gcy)" opacity="1"/><ellipse cx="578.50" cy="124.90" rx="1.49" ry="1.23" fill="url(#gcy)" opacity="1"/><ellipse cx="573.60" cy="131.70" rx="2.07" ry="1.71" fill="url(#gye)" opacity="1"/><ellipse cx="593.40" cy="125.70" rx="2.30" ry="1.90" fill="url(#gye)" opacity="1"/><ellipse cx="593.40" cy="132.30" rx="2.30" ry="1.90" fill="url(#gcy)" opacity="1"/>
<line x1="574.40" y1="159.70" x2="566.90" y2="159.30" stroke="#b88070" stroke-width="0.8"/><line x1="578.60" y1="161.60" x2="573.90" y2="162.50" stroke="#b88070" stroke-width="0.8"/><line x1="589.80" y1="161.60" x2="594.50" y2="162.50" stroke="#b88070" stroke-width="0.8"/><line x1="594.00" y1="159.70" x2="601.40" y2="159.30" stroke="#b88070" stroke-width="0.8"/><line x1="584.20" y1="158.10" x2="584.20" y2="156.50" stroke="#b88070" stroke-width="0.8"/><path d="M574.40 159.70 L578.60 161.60 L589.80 161.60 L594.00 159.70 L584.20 158.10Z" stroke="#6e4026" stroke-width="1.7" fill="#9a6a50" fill-opacity="0.5" stroke-linejoin="round"/><circle cx="566.90" cy="159.30" r="1.15" fill="url(#gh)" stroke="#c89494" stroke-width="0.35"/><circle cx="573.90" cy="162.50" r="0.9" fill="url(#gh)" stroke="#c89494" stroke-width="0.35"/><circle cx="594.50" cy="162.50" r="0.9" fill="url(#gh)" stroke="#c89494" stroke-width="0.35"/><circle cx="601.40" cy="159.30" r="1.15" fill="url(#gh)" stroke="#c89494" stroke-width="0.35"/><circle cx="584.20" cy="156.50" r="0.9" fill="url(#gh)" stroke="#c89494" stroke-width="0.35"/><circle cx="574.40" cy="159.70" r="2.05" fill="url(#gc)"/><circle cx="578.60" cy="161.60" r="2.05" fill="url(#gc)"/><circle cx="589.80" cy="161.60" r="2.05" fill="url(#gc)"/><circle cx="594.00" cy="159.70" r="2.05" fill="url(#gc)"/><circle cx="584.20" cy="158.10" r="2.05" fill="url(#gc)"/><circle cx="584.20" cy="156.90" r="0.95" fill="url(#gh)" stroke="#c89494" stroke-width="0.3"/><ellipse cx="574.20" cy="156.40" rx="2.30" ry="1.90" fill="url(#gcy)" opacity="1"/><ellipse cx="577.40" cy="155.60" rx="1.84" ry="1.52" fill="url(#gcy)" opacity="1"/><ellipse cx="574.00" cy="162.40" rx="1.61" ry="1.33" fill="url(#gye)" opacity="1"/><ellipse cx="593.00" cy="156.60" rx="2.30" ry="1.90" fill="url(#gye)" opacity="1"/><ellipse cx="593.80" cy="163.20" rx="2.30" ry="1.90" fill="url(#gcy)" opacity="1"/>
<ellipse cx="580.20" cy="139.90" rx="4.10" ry="4.10" fill="url(#gcy)" opacity="1" stroke="#5cc4d2" stroke-width="0.5"/>
<ellipse cx="588.50" cy="139.90" rx="4.10" ry="4.10" fill="url(#gye)" opacity="1" stroke="#d0c858" stroke-width="0.5"/>
<ellipse cx="579.90" cy="148.20" rx="4.10" ry="4.10" fill="url(#gye)" opacity="1" stroke="#d0c858" stroke-width="0.5"/>
<ellipse cx="588.50" cy="148.20" rx="4.10" ry="4.10" fill="url(#gcy)" opacity="1" stroke="#5cc4d2" stroke-width="0.5"/>
<ellipse cx="584.20" cy="144.10" rx="2.60" ry="1.60" fill="#e85a20" opacity="1" transform="rotate(-45 584.20 144.10)"/>
<ellipse cx="585.40" cy="143.10" rx="1.80" ry="1.60" fill="url(#gor)" opacity="1"/>
<line x1="644.50" y1="129.40" x2="637.00" y2="129.80" stroke="#b88070" stroke-width="0.8"/><line x1="648.70" y1="127.50" x2="644.00" y2="126.60" stroke="#b88070" stroke-width="0.8"/><line x1="659.90" y1="127.50" x2="664.60" y2="126.60" stroke="#b88070" stroke-width="0.8"/><line x1="664.10" y1="129.40" x2="671.50" y2="129.80" stroke="#b88070" stroke-width="0.8"/><line x1="654.30" y1="131.00" x2="654.30" y2="132.60" stroke="#b88070" stroke-width="0.8"/><path d="M644.50 129.40 L648.70 127.50 L659.90 127.50 L664.10 129.40 L654.30 131.00Z" stroke="#6e4026" stroke-width="1.7" fill="#9a6a50" fill-opacity="0.5" stroke-linejoin="round"/><circle cx="637.00" cy="129.80" r="1.15" fill="url(#gh)" stroke="#c89494" stroke-width="0.35"/><circle cx="644.00" cy="126.60" r="0.9" fill="url(#gh)" stroke="#c89494" stroke-width="0.35"/><circle cx="664.60" cy="126.60" r="0.9" fill="url(#gh)" stroke="#c89494" stroke-width="0.35"/><circle cx="671.50" cy="129.80" r="1.15" fill="url(#gh)" stroke="#c89494" stroke-width="0.35"/><circle cx="654.30" cy="132.60" r="0.9" fill="url(#gh)" stroke="#c89494" stroke-width="0.35"/><circle cx="644.50" cy="129.40" r="2.05" fill="url(#gc)"/><circle cx="648.70" cy="127.50" r="2.05" fill="url(#gc)"/><circle cx="659.90" cy="127.50" r="2.05" fill="url(#gc)"/><circle cx="664.10" cy="129.40" r="2.05" fill="url(#gc)"/><circle cx="654.30" cy="131.00" r="2.05" fill="url(#gc)"/><circle cx="654.30" cy="132.20" r="0.95" fill="url(#gh)" stroke="#c89494" stroke-width="0.3"/><ellipse cx="659.60" cy="125.10" rx="2.30" ry="1.90" fill="url(#gcy)" opacity="1"/><ellipse cx="654.60" cy="126.10" rx="2.30" ry="1.90" fill="url(#gye)" opacity="1"/><ellipse cx="645.50" cy="131.70" rx="1.95" ry="1.61" fill="url(#gcy)" opacity="1"/><ellipse cx="652.90" cy="132.40" rx="2.30" ry="1.90" fill="url(#gcy)" opacity="1"/><ellipse cx="658.90" cy="131.70" rx="2.18" ry="1.80" fill="url(#gye)" opacity="1"/>
<line x1="644.50" y1="159.70" x2="637.00" y2="159.30" stroke="#b88070" stroke-width="0.8"/><line x1="648.70" y1="161.60" x2="644.00" y2="162.50" stroke="#b88070" stroke-width="0.8"/><line x1="659.90" y1="161.60" x2="664.60" y2="162.50" stroke="#b88070" stroke-width="0.8"/><line x1="664.10" y1="159.70" x2="671.50" y2="159.30" stroke="#b88070" stroke-width="0.8"/><line x1="654.30" y1="158.10" x2="654.30" y2="156.50" stroke="#b88070" stroke-width="0.8"/><path d="M644.50 159.70 L648.70 161.60 L659.90 161.60 L664.10 159.70 L654.30 158.10Z" stroke="#6e4026" stroke-width="1.7" fill="#9a6a50" fill-opacity="0.5" stroke-linejoin="round"/><circle cx="637.00" cy="159.30" r="1.15" fill="url(#gh)" stroke="#c89494" stroke-width="0.35"/><circle cx="644.00" cy="162.50" r="0.9" fill="url(#gh)" stroke="#c89494" stroke-width="0.35"/><circle cx="664.60" cy="162.50" r="0.9" fill="url(#gh)" stroke="#c89494" stroke-width="0.35"/><circle cx="671.50" cy="159.30" r="1.15" fill="url(#gh)" stroke="#c89494" stroke-width="0.35"/><circle cx="654.30" cy="156.50" r="0.9" fill="url(#gh)" stroke="#c89494" stroke-width="0.35"/><circle cx="644.50" cy="159.70" r="2.05" fill="url(#gc)"/><circle cx="648.70" cy="161.60" r="2.05" fill="url(#gc)"/><circle cx="659.90" cy="161.60" r="2.05" fill="url(#gc)"/><circle cx="664.10" cy="159.70" r="2.05" fill="url(#gc)"/><circle cx="654.30" cy="158.10" r="2.05" fill="url(#gc)"/><circle cx="654.30" cy="156.90" r="0.95" fill="url(#gh)" stroke="#c89494" stroke-width="0.3"/><ellipse cx="654.10" cy="157.40" rx="2.99" ry="2.47" fill="url(#gye)" opacity="1"/><ellipse cx="659.10" cy="154.40" rx="2.53" ry="2.09" fill="url(#gcy)" opacity="1"/><ellipse cx="646.30" cy="155.80" rx="1.61" ry="1.33" fill="url(#gcy)" opacity="1"/><ellipse cx="653.70" cy="163.40" rx="2.07" ry="1.71" fill="url(#gcy)" opacity="1"/><ellipse cx="660.30" cy="157.80" rx="1.84" ry="1.52" fill="url(#gye)" opacity="1"/>
<ellipse cx="654.30" cy="147.70" rx="6.40" ry="4.60" fill="url(#gcy)" opacity="1" stroke="#5cc4d2" stroke-width="0.5"/>
<ellipse cx="654.30" cy="140.80" rx="6.20" ry="4.60" fill="url(#gye)" opacity="1" stroke="#d0c858" stroke-width="0.5"/>
<ellipse cx="658.10" cy="141.70" rx="2.60" ry="3.00" fill="#a8dcd0" opacity="0.7"/>
<ellipse cx="653.70" cy="142.90" rx="3.00" ry="2.00" fill="url(#gor)" opacity="1"/>
<ellipse cx="654.30" cy="144.70" rx="5.00" ry="0.60" fill="#d84820" opacity="1"/>
<line x1="609.50" y1="178.20" x2="602.00" y2="178.60" stroke="#b88070" stroke-width="0.8"/><line x1="613.70" y1="176.30" x2="609.00" y2="175.40" stroke="#b88070" stroke-width="0.8"/><line x1="624.90" y1="176.30" x2="629.60" y2="175.40" stroke="#b88070" stroke-width="0.8"/><line x1="629.10" y1="178.20" x2="636.50" y2="178.60" stroke="#b88070" stroke-width="0.8"/><line x1="619.30" y1="179.80" x2="619.30" y2="181.40" stroke="#b88070" stroke-width="0.8"/><path d="M609.50 178.20 L613.70 176.30 L624.90 176.30 L629.10 178.20 L619.30 179.80Z" stroke="#6e4026" stroke-width="1.7" fill="#9a6a50" fill-opacity="0.5" stroke-linejoin="round"/><circle cx="602.00" cy="178.60" r="1.15" fill="url(#gh)" stroke="#c89494" stroke-width="0.35"/><circle cx="609.00" cy="175.40" r="0.9" fill="url(#gh)" stroke="#c89494" stroke-width="0.35"/><circle cx="629.60" cy="175.40" r="0.9" fill="url(#gh)" stroke="#c89494" stroke-width="0.35"/><circle cx="636.50" cy="178.60" r="1.15" fill="url(#gh)" stroke="#c89494" stroke-width="0.35"/><circle cx="619.30" cy="181.40" r="0.9" fill="url(#gh)" stroke="#c89494" stroke-width="0.35"/><circle cx="609.50" cy="178.20" r="2.05" fill="url(#gc)"/><circle cx="613.70" cy="176.30" r="2.05" fill="url(#gc)"/><circle cx="624.90" cy="176.30" r="2.05" fill="url(#gc)"/><circle cx="629.10" cy="178.20" r="2.05" fill="url(#gc)"/><circle cx="619.30" cy="179.80" r="2.05" fill="url(#gc)"/><circle cx="619.30" cy="181.00" r="0.95" fill="url(#gh)" stroke="#c89494" stroke-width="0.3"/>
<line x1="609.50" y1="208.80" x2="602.00" y2="208.40" stroke="#b88070" stroke-width="0.8"/><line x1="613.70" y1="210.70" x2="609.00" y2="211.60" stroke="#b88070" stroke-width="0.8"/><line x1="624.90" y1="210.70" x2="629.60" y2="211.60" stroke="#b88070" stroke-width="0.8"/><line x1="629.10" y1="208.80" x2="636.50" y2="208.40" stroke="#b88070" stroke-width="0.8"/><line x1="619.30" y1="207.20" x2="619.30" y2="205.60" stroke="#b88070" stroke-width="0.8"/><path d="M609.50 208.80 L613.70 210.70 L624.90 210.70 L629.10 208.80 L619.30 207.20Z" stroke="#6e4026" stroke-width="1.7" fill="#9a6a50" fill-opacity="0.5" stroke-linejoin="round"/><circle cx="602.00" cy="208.40" r="1.15" fill="url(#gh)" stroke="#c89494" stroke-width="0.35"/><circle cx="609.00" cy="211.60" r="0.9" fill="url(#gh)" stroke="#c89494" stroke-width="0.35"/><circle cx="629.60" cy="211.60" r="0.9" fill="url(#gh)" stroke="#c89494" stroke-width="0.35"/><circle cx="636.50" cy="208.40" r="1.15" fill="url(#gh)" stroke="#c89494" stroke-width="0.35"/><circle cx="619.30" cy="205.60" r="0.9" fill="url(#gh)" stroke="#c89494" stroke-width="0.35"/><circle cx="609.50" cy="208.80" r="2.05" fill="url(#gc)"/><circle cx="613.70" cy="210.70" r="2.05" fill="url(#gc)"/><circle cx="624.90" cy="210.70" r="2.05" fill="url(#gc)"/><circle cx="629.10" cy="208.80" r="2.05" fill="url(#gc)"/><circle cx="619.30" cy="207.20" r="2.05" fill="url(#gc)"/><circle cx="619.30" cy="206.00" r="0.95" fill="url(#gh)" stroke="#c89494" stroke-width="0.3"/>
<ellipse cx="619.30" cy="144.30" rx="0.00" ry="0.00" fill="none" opacity="1"/>
<ellipse cx="619.30" cy="187.00" rx="4.40" ry="5.20" fill="url(#gye)" opacity="1" stroke="#d0c858" stroke-width="0.5"/>
<ellipse cx="619.30" cy="199.40" rx="4.40" ry="4.60" fill="url(#gye)" opacity="1" stroke="#d0c858" stroke-width="0.5"/>
<rect x="607.90" y="188.2" width="22.8" height="10.2" rx="5.1" ry="5.1" fill="url(#gcy2)" stroke="#5cc4d2" stroke-width="0.5"/>
<defs><linearGradient id="gcy2" x1="0" y1="0" x2="0" y2="1"><stop offset="0" stop-color="#a4e4ea"/><stop offset="0.45" stop-color="#7ed6e0"/><stop offset="1" stop-color="#4ab6c4"/></linearGradient></defs>
<rect x="614.50" y="190.8" width="9.6" height="4.6" rx="1.5" fill="#a9b9bb"/>
<ellipse cx="619.30" cy="191.00" rx="3.60" ry="0.70" fill="#e0a040" opacity="1"/>
<line x1="574.40" y1="227.60" x2="566.90" y2="228.00" stroke="#b88070" stroke-width="0.8"/><line x1="578.60" y1="225.70" x2="573.90" y2="224.80" stroke="#b88070" stroke-width="0.8"/><line x1="589.80" y1="225.70" x2="594.50" y2="224.80" stroke="#b88070" stroke-width="0.8"/><line x1="594.00" y1="227.60" x2="601.40" y2="228.00" stroke="#b88070" stroke-width="0.8"/><line x1="584.20" y1="229.20" x2="584.20" y2="230.80" stroke="#b88070" stroke-width="0.8"/><path d="M574.40 227.60 L578.60 225.70 L589.80 225.70 L594.00 227.60 L584.20 229.20Z" stroke="#6e4026" stroke-width="1.7" fill="#9a6a50" fill-opacity="0.5" stroke-linejoin="round"/><circle cx="566.90" cy="228.00" r="1.15" fill="url(#gh)" stroke="#c89494" stroke-width="0.35"/><circle cx="573.90" cy="224.80" r="0.9" fill="url(#gh)" stroke="#c89494" stroke-width="0.35"/><circle cx="594.50" cy="224.80" r="0.9" fill="url(#gh)" stroke="#c89494" stroke-width="0.35"/><circle cx="601.40" cy="228.00" r="1.15" fill="url(#gh)" stroke="#c89494" stroke-width="0.35"/><circle cx="584.20" cy="230.80" r="0.9" fill="url(#gh)" stroke="#c89494" stroke-width="0.35"/><circle cx="574.40" cy="227.60" r="2.05" fill="url(#gc)"/><circle cx="578.60" cy="225.70" r="2.05" fill="url(#gc)"/><circle cx="589.80" cy="225.70" r="2.05" fill="url(#gc)"/><circle cx="594.00" cy="227.60" r="2.05" fill="url(#gc)"/><circle cx="584.20" cy="229.20" r="2.05" fill="url(#gc)"/><circle cx="584.20" cy="230.40" r="0.95" fill="url(#gh)" stroke="#c89494" stroke-width="0.3"/><ellipse cx="575.00" cy="225.30" rx="1.84" ry="1.52" fill="url(#gye)" opacity="1"/><ellipse cx="578.60" cy="223.50" rx="1.72" ry="1.42" fill="url(#gcy)" opacity="1"/><ellipse cx="574.80" cy="230.50" rx="1.84" ry="1.52" fill="url(#gcy)" opacity="1"/><ellipse cx="578.80" cy="230.50" rx="1.38" ry="1.14" fill="url(#gye)" opacity="1"/>
<line x1="574.40" y1="257.20" x2="566.90" y2="256.80" stroke="#b88070" stroke-width="0.8"/><line x1="578.60" y1="259.10" x2="573.90" y2="260.00" stroke="#b88070" stroke-width="0.8"/><line x1="589.80" y1="259.10" x2="594.50" y2="260.00" stroke="#b88070" stroke-width="0.8"/><line x1="594.00" y1="257.20" x2="601.40" y2="256.80" stroke="#b88070" stroke-width="0.8"/><line x1="584.20" y1="255.60" x2="584.20" y2="254.00" stroke="#b88070" stroke-width="0.8"/><path d="M574.40 257.20 L578.60 259.10 L589.80 259.10 L594.00 257.20 L584.20 255.60Z" stroke="#6e4026" stroke-width="1.7" fill="#9a6a50" fill-opacity="0.5" stroke-linejoin="round"/><circle cx="566.90" cy="256.80" r="1.15" fill="url(#gh)" stroke="#c89494" stroke-width="0.35"/><circle cx="573.90" cy="260.00" r="0.9" fill="url(#gh)" stroke="#c89494" stroke-width="0.35"/><circle cx="594.50" cy="260.00" r="0.9" fill="url(#gh)" stroke="#c89494" stroke-width="0.35"/><circle cx="601.40" cy="256.80" r="1.15" fill="url(#gh)" stroke="#c89494" stroke-width="0.35"/><circle cx="584.20" cy="254.00" r="0.9" fill="url(#gh)" stroke="#c89494" stroke-width="0.35"/><circle cx="574.40" cy="257.20" r="2.05" fill="url(#gc)"/><circle cx="578.60" cy="259.10" r="2.05" fill="url(#gc)"/><circle cx="589.80" cy="259.10" r="2.05" fill="url(#gc)"/><circle cx="594.00" cy="257.20" r="2.05" fill="url(#gc)"/><circle cx="584.20" cy="255.60" r="2.05" fill="url(#gc)"/><circle cx="584.20" cy="254.40" r="0.95" fill="url(#gh)" stroke="#c89494" stroke-width="0.3"/><ellipse cx="575.40" cy="254.30" rx="1.84" ry="1.52" fill="url(#gcy)" opacity="1"/><ellipse cx="579.20" cy="252.70" rx="1.61" ry="1.33" fill="url(#gye)" opacity="1"/><ellipse cx="574.80" cy="259.90" rx="1.72" ry="1.42" fill="url(#gye)" opacity="1"/>
<ellipse cx="591.20" cy="241.50" rx="4.20" ry="6.40" fill="url(#gcy)" opacity="1" stroke="#5cc4d2" stroke-width="0.5"/>
<ellipse cx="581.00" cy="236.00" rx="3.00" ry="2.00" fill="url(#gye)" opacity="1"/>
<ellipse cx="577.90" cy="242.00" rx="5.10" ry="6.80" fill="url(#gcy)" opacity="1" stroke="#5cc4d2" stroke-width="0.5"/>
<ellipse cx="586.60" cy="242.40" rx="4.60" ry="6.60" fill="url(#gye)" opacity="1" stroke="#d0c858" stroke-width="0.5"/>
<ellipse cx="585.80" cy="242.40" rx="2.30" ry="3.30" fill="url(#gor)" opacity="1"/>
<ellipse cx="582.60" cy="242.00" rx="1.60" ry="5.00" fill="#b0a080" opacity="0.6"/>
<line x1="644.40" y1="227.60" x2="636.90" y2="228.00" stroke="#b88070" stroke-width="0.8"/><line x1="648.60" y1="225.70" x2="643.90" y2="224.80" stroke="#b88070" stroke-width="0.8"/><line x1="659.80" y1="225.70" x2="664.50" y2="224.80" stroke="#b88070" stroke-width="0.8"/><line x1="664.00" y1="227.60" x2="671.40" y2="228.00" stroke="#b88070" stroke-width="0.8"/><line x1="654.20" y1="229.20" x2="654.20" y2="230.80" stroke="#b88070" stroke-width="0.8"/><path d="M644.40 227.60 L648.60 225.70 L659.80 225.70 L664.00 227.60 L654.20 229.20Z" stroke="#6e4026" stroke-width="1.7" fill="#9a6a50" fill-opacity="0.5" stroke-linejoin="round"/><circle cx="636.90" cy="228.00" r="1.15" fill="url(#gh)" stroke="#c89494" stroke-width="0.35"/><circle cx="643.90" cy="224.80" r="0.9" fill="url(#gh)" stroke="#c89494" stroke-width="0.35"/><circle cx="664.50" cy="224.80" r="0.9" fill="url(#gh)" stroke="#c89494" stroke-width="0.35"/><circle cx="671.40" cy="228.00" r="1.15" fill="url(#gh)" stroke="#c89494" stroke-width="0.35"/><circle cx="654.20" cy="230.80" r="0.9" fill="url(#gh)" stroke="#c89494" stroke-width="0.35"/><circle cx="644.40" cy="227.60" r="2.05" fill="url(#gc)"/><circle cx="648.60" cy="225.70" r="2.05" fill="url(#gc)"/><circle cx="659.80" cy="225.70" r="2.05" fill="url(#gc)"/><circle cx="664.00" cy="227.60" r="2.05" fill="url(#gc)"/><circle cx="654.20" cy="229.20" r="2.05" fill="url(#gc)"/><circle cx="654.20" cy="230.40" r="0.95" fill="url(#gh)" stroke="#c89494" stroke-width="0.3"/><ellipse cx="664.00" cy="224.90" rx="1.84" ry="1.52" fill="url(#gye)" opacity="1"/><ellipse cx="662.80" cy="231.10" rx="1.95" ry="1.61" fill="url(#gcy)" opacity="1"/>
<line x1="644.40" y1="257.20" x2="636.90" y2="256.80" stroke="#b88070" stroke-width="0.8"/><line x1="648.60" y1="259.10" x2="643.90" y2="260.00" stroke="#b88070" stroke-width="0.8"/><line x1="659.80" y1="259.10" x2="664.50" y2="260.00" stroke="#b88070" stroke-width="0.8"/><line x1="664.00" y1="257.20" x2="671.40" y2="256.80" stroke="#b88070" stroke-width="0.8"/><line x1="654.20" y1="255.60" x2="654.20" y2="254.00" stroke="#b88070" stroke-width="0.8"/><path d="M644.40 257.20 L648.60 259.10 L659.80 259.10 L664.00 257.20 L654.20 255.60Z" stroke="#6e4026" stroke-width="1.7" fill="#9a6a50" fill-opacity="0.5" stroke-linejoin="round"/><circle cx="636.90" cy="256.80" r="1.15" fill="url(#gh)" stroke="#c89494" stroke-width="0.35"/><circle cx="643.90" cy="260.00" r="0.9" fill="url(#gh)" stroke="#c89494" stroke-width="0.35"/><circle cx="664.50" cy="260.00" r="0.9" fill="url(#gh)" stroke="#c89494" stroke-width="0.35"/><circle cx="671.40" cy="256.80" r="1.15" fill="url(#gh)" stroke="#c89494" stroke-width="0.35"/><circle cx="654.20" cy="254.00" r="0.9" fill="url(#gh)" stroke="#c89494" stroke-width="0.35"/><circle cx="644.40" cy="257.20" r="2.05" fill="url(#gc)"/><circle cx="648.60" cy="259.10" r="2.05" fill="url(#gc)"/><circle cx="659.80" cy="259.10" r="2.05" fill="url(#gc)"/><circle cx="664.00" cy="257.20" r="2.05" fill="url(#gc)"/><circle cx="654.20" cy="255.60" r="2.05" fill="url(#gc)"/><circle cx="654.20" cy="254.40" r="0.95" fill="url(#gh)" stroke="#c89494" stroke-width="0.3"/><ellipse cx="662.80" cy="253.50" rx="2.07" ry="1.71" fill="url(#gcy)" opacity="1"/><ellipse cx="664.00" cy="259.70" rx="1.84" ry="1.52" fill="url(#gye)" opacity="1"/>
<ellipse cx="647.90" cy="242.00" rx="5.00" ry="6.60" fill="url(#gcy)" opacity="1" stroke="#5cc4d2" stroke-width="0.5"/>
<ellipse cx="657.20" cy="236.20" rx="3.00" ry="2.20" fill="url(#gye)" opacity="1"/>
<ellipse cx="661.00" cy="242.00" rx="5.30" ry="7.00" fill="url(#gcy)" opacity="1" stroke="#5cc4d2" stroke-width="0.5"/>
<ellipse cx="652.90" cy="242.40" rx="4.80" ry="7.20" fill="url(#gye)" opacity="1" stroke="#d0c858" stroke-width="0.5"/>
<ellipse cx="653.20" cy="242.40" rx="2.40" ry="3.40" fill="url(#gor)" opacity="1"/>
<text transform="translate(584.00 118.80) scale(1.02 1)" font-size="10.4" text-anchor="middle">3</text>
<text transform="translate(654.30 118.80) scale(1.02 1)" font-size="10.4" text-anchor="middle">4</text>
<text transform="translate(654.30 197.20) scale(1.02 1)" font-size="10.4" text-anchor="middle">2</text>
<text transform="translate(584.20 274.80) scale(1.02 1)" font-size="10.4" text-anchor="middle">0</text>
<text transform="translate(654.20 274.80) scale(1.02 1)" font-size="10.4" text-anchor="middle">1</text>
<text x="563.40" y="145.70" font-size="8.0" font-family="Liberation Serif" font-style="italic" fill="#333">d<tspan font-size="5.0" dy="1.1" dx="-0.6">xz</tspan></text>
<text x="669.20" y="145.70" font-size="8.0" font-family="Liberation Serif" font-style="italic" fill="#333">d<tspan font-size="5.0" dy="1.1" dx="-0.6">yz</tspan></text>
<text x="635.60" y="194.70" font-size="8.0" font-family="Liberation Serif" font-style="italic" fill="#333">d<tspan font-size="5.0" dy="1.1" dx="-0.6">z²</tspan></text>
<text x="560.80" y="244.70" font-size="8.0" font-family="Liberation Serif" font-style="italic" fill="#333">d<tspan font-size="5.0" dy="1.1" dx="-0.6">xy</tspan></text>
<text x="670.40" y="244.70" font-size="8.0" font-family="Liberation Serif" font-style="italic" fill="#333">d<tspan font-size="5.0" dy="1.1" dx="-0.6">x²−y²</tspan></text>
<text x="616.60" y="146.20" font-size="7.6" font-family="Liberation Serif" fill="#3a3a3a">e<tspan font-size="4.6" dy="0.9" dx="-0.1">1</tspan></text>
<text x="595.00" y="195.20" font-size="7.6" font-family="Liberation Serif" fill="#3a3a3a">a<tspan font-size="4.6" dy="0.9" dx="-0.1">1</tspan></text>
<text x="615.70" y="244.20" font-size="7.6" font-family="Liberation Serif" fill="#3a3a3a">e<tspan font-size="4.6" dy="0.9" dx="-0.1">2</tspan></text>
</svg>
</body></html>
